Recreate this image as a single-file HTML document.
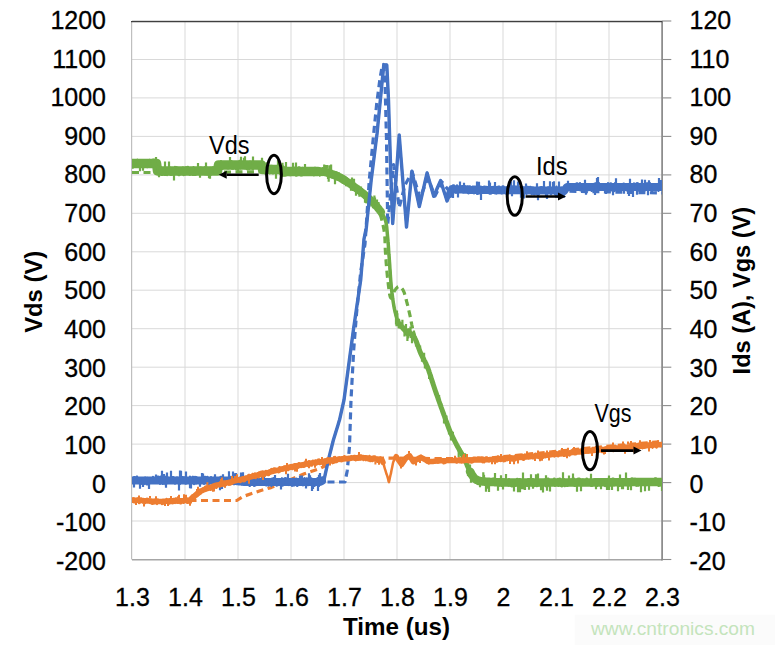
<!DOCTYPE html>
<html><head><meta charset="utf-8"><style>
html,body{margin:0;padding:0;background:#fff;}
body{width:775px;height:645px;overflow:hidden;position:relative;}
svg{position:absolute;left:0;top:0;}
text{font-family:"Liberation Sans",sans-serif;fill:#000;}
</style></head><body>
<svg width="775" height="645" viewBox="0 0 775 645">
<rect x="574.7" y="614.7" width="201" height="31" fill="#FBFBFB"/>
<g stroke="#D9D9D9" stroke-width="1" fill="none"><line x1="185.0" y1="21.0" x2="185.0" y2="559.5"/><line x1="238.0" y1="21.0" x2="238.0" y2="559.5"/><line x1="291.0" y1="21.0" x2="291.0" y2="559.5"/><line x1="344.0" y1="21.0" x2="344.0" y2="559.5"/><line x1="397.0" y1="21.0" x2="397.0" y2="559.5"/><line x1="450.0" y1="21.0" x2="450.0" y2="559.5"/><line x1="503.0" y1="21.0" x2="503.0" y2="559.5"/><line x1="556.0" y1="21.0" x2="556.0" y2="559.5"/><line x1="609.0" y1="21.0" x2="609.0" y2="559.5"/><line x1="132.0" y1="21.0" x2="662.0" y2="21.0"/><line x1="132.0" y1="59.5" x2="662.0" y2="59.5"/><line x1="132.0" y1="97.9" x2="662.0" y2="97.9"/><line x1="132.0" y1="136.4" x2="662.0" y2="136.4"/><line x1="132.0" y1="174.9" x2="662.0" y2="174.9"/><line x1="132.0" y1="213.3" x2="662.0" y2="213.3"/><line x1="132.0" y1="251.8" x2="662.0" y2="251.8"/><line x1="132.0" y1="290.2" x2="662.0" y2="290.2"/><line x1="132.0" y1="328.7" x2="662.0" y2="328.7"/><line x1="132.0" y1="367.2" x2="662.0" y2="367.2"/><line x1="132.0" y1="405.6" x2="662.0" y2="405.6"/><line x1="132.0" y1="444.1" x2="662.0" y2="444.1"/><line x1="132.0" y1="482.6" x2="662.0" y2="482.6"/><line x1="132.0" y1="521.0" x2="662.0" y2="521.0"/></g>
<line x1="132.0" y1="20.5" x2="662.0" y2="20.5" stroke="#D9D9D9" stroke-width="1"/>
<line x1="131.6" y1="21.0" x2="131.6" y2="559.5" stroke="#BFBFBF" stroke-width="1.2"/>
<line x1="132.0" y1="559.8" x2="662.0" y2="559.8" stroke="#A6A6A6" stroke-width="1.5"/>
<line x1="662.1" y1="21.0" x2="662.1" y2="560.5" stroke="#808080" stroke-width="1.6"/>
<line x1="131" y1="21.6" x2="662.5" y2="21.6" stroke="#404040" stroke-width="1.3"/>
<g stroke="#8C8C8C" stroke-width="1.1"><line x1="662.0" y1="21.0" x2="671.3" y2="21.0"/><line x1="662.0" y1="59.5" x2="671.3" y2="59.5"/><line x1="662.0" y1="97.9" x2="671.3" y2="97.9"/><line x1="662.0" y1="136.4" x2="671.3" y2="136.4"/><line x1="662.0" y1="174.9" x2="671.3" y2="174.9"/><line x1="662.0" y1="213.3" x2="671.3" y2="213.3"/><line x1="662.0" y1="251.8" x2="671.3" y2="251.8"/><line x1="662.0" y1="290.2" x2="671.3" y2="290.2"/><line x1="662.0" y1="328.7" x2="671.3" y2="328.7"/><line x1="662.0" y1="367.2" x2="671.3" y2="367.2"/><line x1="662.0" y1="405.6" x2="671.3" y2="405.6"/><line x1="662.0" y1="444.1" x2="671.3" y2="444.1"/><line x1="662.0" y1="482.6" x2="671.3" y2="482.6"/><line x1="662.0" y1="521.0" x2="671.3" y2="521.0"/><line x1="662.0" y1="559.5" x2="671.3" y2="559.5"/></g>
<defs><clipPath id="pa"><rect x="132" y="21" width="530" height="538.5"/></clipPath></defs>
<g fill="none" stroke-linejoin="round" stroke-linecap="butt" clip-path="url(#pa)">
<path d="M132.0,172.5 L135.3,172.5 L138.5,172.5 L141.5,172.5 L144.6,172.5 L147.8,172.5 L151.4,172.5 L155.4,172.5 L160.0,172.5 L174.9,172.4 L194.8,172.3 L217.9,172.1 L242.4,171.9 L266.7,171.8 L288.9,171.8 L307.2,172.0 L320.0,172.5 L322.7,172.7 L325.0,172.9 L326.9,173.1 L328.7,173.3 L330.3,173.5 L331.9,173.8 L333.4,174.1 L335.0,174.5 L336.4,174.8 L337.6,175.1 L338.8,175.5 L340.0,175.9 L341.2,176.3 L342.4,176.8 L343.7,177.3 L345.0,178.0 L347.0,179.1 L349.1,180.5 L351.2,182.0 L353.4,183.6 L355.6,185.4 L357.8,187.2 L360.0,189.1 L362.0,191.0 L364.2,193.1 L366.4,195.3 L368.6,197.6 L370.8,200.0 L372.8,202.4 L374.7,204.9 L376.5,207.4 L378.0,210.0 L379.2,212.4 L380.2,214.8 L381.1,217.2 L381.8,219.7 L382.4,222.3 L383.0,224.8 L383.5,227.4 L384.0,230.0 L384.4,232.8 L384.7,235.6 L384.9,238.4 L385.0,241.3 L385.1,244.2 L385.2,247.1 L385.3,250.0 L385.5,253.0 L385.7,256.3 L386.0,259.6 L386.2,263.1 L386.5,266.5 L386.8,269.9 L387.1,273.3 L387.4,276.5 L387.8,279.6 L388.1,282.3 L388.4,285.3 L388.8,288.3 L389.1,291.2 L389.5,293.8 L390.0,296.0 L390.4,297.4 L391.0,298.0 L391.4,297.8 L391.9,297.1 L392.3,296.1 L392.8,294.8 L393.3,293.5 L393.9,292.1 L394.4,290.9 L395.0,290.0 L395.5,289.4 L395.9,288.8 L396.4,288.2 L397.0,287.7 L397.5,287.2 L398.0,286.8 L398.5,286.6 L399.0,286.5 L399.5,286.6 L400.0,286.8 L400.6,287.1 L401.1,287.6 L401.6,288.1 L402.1,288.7 L402.6,289.3 L403.0,290.0 L403.6,291.2 L404.2,292.6 L404.7,294.2 L405.2,295.9 L405.7,297.7 L406.1,299.5 L406.6,301.3 L407.0,303.0 L407.5,304.7 L407.9,306.4 L408.3,308.1 L408.7,309.9 L409.1,311.6 L409.5,313.4 L409.9,315.1 L410.3,316.8 L410.6,318.4 L410.9,320.0 L411.2,321.6 L411.5,323.2 L411.8,324.8 L412.2,326.4 L412.5,328.2 L413.0,330.0 L413.8,332.7 L414.6,335.7 L415.6,338.9 L416.7,342.1 L417.8,345.3 L418.9,348.4 L419.9,351.3 L421.0,354.0 L421.8,355.7 L422.5,357.3 L423.3,358.8 L424.1,360.3 L424.9,361.7 L425.7,363.2 L426.4,364.8 L427.2,366.5 L428.2,369.0 L429.1,371.7 L430.1,374.5 L431.0,377.5 L432.0,380.5 L433.0,383.6 L434.0,386.7 L435.0,389.8 L436.3,393.5 L437.7,397.4 L439.1,401.5 L440.6,405.5 L442.0,409.5 L443.4,413.4 L444.7,416.9 L445.8,420.0 L446.4,421.7 L447.0,423.3 L447.5,424.7 L448.0,426.1 L448.5,427.5 L449.0,428.8 L449.6,430.2 L450.2,431.7 L451.0,433.6 L451.9,435.5 L452.9,437.5 L453.9,439.5 L454.9,441.5 L455.9,443.5 L456.9,445.4 L457.9,447.2 L458.7,448.6 L459.5,450.0 L460.3,451.3 L461.1,452.6 L461.8,453.9 L462.6,455.2 L463.4,456.6 L464.1,458.0 L464.9,459.7 L465.7,461.5 L466.4,463.3 L467.1,465.2 L467.9,467.0 L468.7,468.8 L469.5,470.5 L470.3,472.0 L471.0,473.2 L471.6,474.3 L472.3,475.4 L473.0,476.4 L473.7,477.4 L474.5,478.3 L475.5,479.1 L476.5,479.8 L477.9,480.5 L479.4,481.0 L480.9,481.3 L482.7,481.5 L484.6,481.6 L486.7,481.7 L489.2,481.8 L492.0,482.0 L504.5,482.5 L521.7,482.8 L542.4,482.8 L565.6,482.7 L590.2,482.5 L615.2,482.3 L639.5,482.1 L662.0,482.0" stroke="#70AD47" stroke-width="3.2" stroke-dasharray="7 4.5"/>
<path d="M132.0,482.0 L345.0,482.0 L347.2,471.0 L349.5,446.5 L351.0,400.0 L353.7,350.0 L356.5,313.8 L360.7,272.0 L365.0,244.0 L369.3,180.0 L373.6,134.7 L376.7,103.7 L379.8,80.0 L382.0,67.0 L383.5,64.5 L385.0,81.0 L386.5,140.0 L387.7,224.3 L393.6,164.7 L399.2,207.5 L405.0,185.0 L412.2,172.0 L420.0,198.0 L428.0,178.0 L435.0,196.0 L442.0,182.0 L450.0,192.0 L460.0,190.0 L560.0,191.0 L662.0,193.0" stroke="#4472C4" stroke-width="3.2" stroke-dasharray="7 4.5"/>
<path d="M132.0,500.5 L236.8,500.5 L243.2,496.5 L251.0,493.8 L260.2,490.7 L271.0,487.6 L305.0,473.6 L320.6,468.2 L328.0,464.3 L340.0,460.0 L384.0,458.0 L480.0,459.0 L600.0,447.0 L662.0,441.5" stroke="#ED7D31" stroke-width="3.2" stroke-dasharray="7 4.5"/>
<path d="M132.0,163.5 L133.0,163.5 L134.0,163.5 L135.0,163.5 L136.0,163.5 L137.0,163.5 L138.0,163.5 L139.0,163.5 L140.0,163.5 L141.0,163.5 L142.0,163.5 L143.0,163.5 L144.0,163.5 L145.0,163.5 L146.0,163.5 L147.0,163.5 L148.0,163.5 L149.0,163.5 L150.0,163.5 L151.0,163.5 L152.0,163.5 L153.0,163.5 L154.0,163.5 L155.0,163.5 L156.0,163.5 L156.5,163.5 L157.0,167.2 L157.5,171.0 L158.0,171.0 L159.0,171.0 L160.0,171.0 L161.0,171.0 L162.0,171.0 L163.0,171.0 L164.0,171.0 L165.0,171.0 L166.0,171.0 L167.0,171.0 L168.0,171.0 L169.0,171.0 L170.0,171.0 L171.0,171.0 L172.0,171.0 L173.0,171.0 L174.0,171.0 L175.0,171.0 L176.0,171.0 L177.0,171.0 L178.0,171.0 L179.0,171.0 L180.0,171.0 L181.0,171.0 L182.0,171.0 L183.0,171.0 L184.0,171.0 L185.0,171.0 L186.0,171.0 L187.0,171.0 L188.0,171.0 L189.0,171.0 L190.0,171.0 L191.0,171.0 L192.0,171.0 L193.0,171.0 L194.0,171.0 L195.0,171.0 L196.0,171.0 L197.0,171.0 L198.0,171.0 L199.0,171.0 L200.0,171.0 L201.0,171.0 L202.0,171.0 L203.0,171.0 L204.0,171.0 L205.0,171.0 L206.0,171.0 L207.0,171.0 L208.0,171.0 L209.0,171.0 L210.0,171.0 L211.0,171.0 L212.0,171.0 L213.0,171.0 L214.0,171.0 L215.0,171.0 L216.0,171.0 L217.0,171.0 L217.5,171.0 L218.0,168.0 L218.5,165.0 L219.0,165.0 L220.0,165.0 L221.0,165.0 L222.0,165.0 L223.0,165.0 L224.0,165.0 L225.0,165.0 L226.0,165.0 L227.0,165.0 L228.0,165.0 L229.0,165.0 L230.0,165.0 L231.0,165.0 L232.0,165.0 L233.0,165.0 L234.0,165.0 L235.0,165.0 L236.0,165.0 L237.0,165.0 L238.0,165.0 L239.0,165.0 L240.0,165.0 L241.0,165.0 L242.0,165.0 L243.0,165.0 L244.0,165.0 L245.0,165.0 L246.0,165.0 L247.0,165.0 L248.0,165.0 L249.0,165.0 L250.0,165.0 L251.0,165.0 L252.0,165.0 L253.0,165.0 L254.0,165.0 L255.0,165.0 L256.0,165.0 L257.0,165.0 L258.0,165.0 L259.0,165.0 L260.0,165.0 L261.0,165.0 L261.5,165.0 L262.0,167.2 L262.5,169.5 L263.0,169.5 L264.0,169.5 L265.0,169.5 L266.0,169.5 L267.0,169.5 L268.0,169.5 L269.0,169.5 L270.0,169.5 L271.0,169.5 L272.0,169.5 L273.0,169.5 L274.0,169.5 L275.0,169.5 L276.0,169.5 L277.0,169.5 L278.0,169.5 L279.0,169.5 L280.0,169.5 L281.0,169.5 L281.5,169.5 L282.0,170.5 L282.5,171.5 L283.0,171.5 L284.0,171.5 L285.0,171.5 L286.0,171.5 L287.0,171.5 L288.0,171.5 L289.0,171.5 L290.0,171.5 L291.0,171.5 L292.0,171.5 L293.0,171.5 L294.0,171.5 L295.0,171.5 L296.0,171.5 L297.0,171.5 L298.0,171.5 L299.0,171.5 L300.0,171.5 L301.0,171.5 L302.0,171.5 L303.0,171.5 L304.0,171.5 L305.0,171.5 L306.0,171.5 L307.0,171.5 L308.0,171.5 L309.0,171.5 L310.0,171.5 L311.0,171.5 L312.0,171.5 L313.0,171.5 L314.0,171.5 L315.0,171.5 L316.0,171.5 L317.0,171.5 L318.0,171.5" stroke="#70AD47" stroke-width="9.5" stroke-linecap="round"/><path d="M318.0,171.5 L318.9,171.6 L319.0,171.6 L319.8,171.6 L320.0,171.6 L320.7,171.6 L321.0,171.6 L321.6,171.7 L322.0,171.7 L322.5,171.7 L323.0,171.8 L323.3,171.8 L324.0,171.9 L324.2,171.9 L325.0,172.0 L325.7,172.1 L326.0,172.2 L326.3,172.3 L326.9,172.4 L327.0,172.5 L327.5,172.6 L328.0,172.8 L328.0,172.8 L328.7,173.0 L329.0,173.1 L329.3,173.3 L330.0,173.5 L331.0,173.8 L331.1,173.9 L332.0,174.2 L332.3,174.3 L333.0,174.6 L333.5,174.7 L334.0,174.9 L334.8,175.2 L335.0,175.3 L336.0,175.7 L336.1,175.7 L337.0,176.1 L337.4,176.3 L338.0,176.6 L338.7,176.9 L339.0,177.0 L340.0,177.5 L341.0,178.0 L341.4,178.2 L342.0,178.6 L342.8,179.1 L343.0,179.2 L344.0,179.8 L344.2,180.0 L345.0,180.5" stroke="#70AD47" stroke-width="8.5" stroke-linecap="round"/><path d="M345.0,180.5 L345.6,180.9 L346.0,181.1 L347.0,181.8 L347.0,181.8 L348.0,182.5 L348.4,182.7 L349.0,183.1 L349.7,183.6 L350.0,183.8 L351.0,184.5 L352.0,185.2 L352.0,185.2 L353.0,185.9 L353.0,185.9 L354.0,186.6 L354.0,186.6 L354.9,187.3 L355.0,187.3 L355.9,188.0 L356.0,188.1 L356.8,188.6 L357.0,188.8 L357.7,189.3 L358.0,189.5 L358.6,190.0 L359.0,190.3 L359.4,190.6 L360.0,191.0 L360.2,191.2 L361.0,191.8 L361.0,191.8 L361.7,192.3 L362.0,192.5 L362.5,192.9 L363.0,193.3 L363.3,193.6 L364.0,194.1 L364.1,194.2 L365.0,195.0 L366.0,195.9 L366.4,196.2 L367.0,196.8 L367.9,197.6 L368.0,197.7 L369.0,198.6 L369.5,199.1 L370.0,199.6 L371.0,200.5 L371.2,200.7 L372.0,201.5 L372.8,202.3 L373.0,202.5 L374.0,203.5 L374.4,203.9 L375.0,204.6 L375.9,205.6 L376.0,205.7 L377.0,206.8 L377.3,207.2 L378.0,208.1 L378.5,208.6 L379.0,209.3 L379.6,210.0 L380.0,210.6 L380.7,211.4 L381.0,211.9" stroke="#70AD47" stroke-width="8" stroke-linecap="round"/><path d="M381.0,211.9 L381.7,212.8 L382.0,213.3 L382.6,214.3 L383.0,214.9 L383.5,215.8 L384.0,216.8 L384.3,217.4 L385.0,219.0 L385.6,220.9 L386.0,222.5 L386.1,222.9 L386.4,224.9 L386.7,227.0 L386.9,229.2 L387.0,230.4 L387.1,231.4 L387.3,233.7 L387.5,236.0 L387.8,238.9 L388.0,241.2 L388.1,241.9 L388.3,244.9 L388.5,248.1 L388.7,251.3 L388.9,254.5 L389.0,255.4 L389.2,257.7 L389.4,261.0 L389.7,264.6 L389.9,268.3 L390.0,269.5 L390.2,272.1 L390.4,276.0 L390.7,279.8 L391.0,283.4 L391.0,283.5 L391.3,287.1 L391.7,290.5 L392.0,293.0 L392.0,293.2 L392.4,296.0 L392.7,298.6 L393.0,300.6 L393.1,301.2 L393.5,303.7 L393.9,306.1 L394.0,306.7 L394.3,308.4 L394.8,310.6 L395.0,311.5 L395.1,312.1 L395.5,313.5 L395.8,314.8 L396.0,315.6 L396.1,316.1 L396.5,317.3 L396.9,318.6 L397.0,318.7 L397.4,319.8 L398.0,321.0 L398.7,322.3 L399.0,322.8 L399.5,323.7 L400.0,324.4" stroke="#70AD47" stroke-width="3.5" stroke-linecap="round"/><path d="M400.0,324.4 L400.4,325.0 L401.0,325.8 L401.4,326.4 L402.0,327.1 L402.4,327.6 L403.0,328.4 L403.4,328.8 L404.0,329.5 L404.5,330.0 L405.0,330.5 L405.5,331.0 L406.0,331.4 L406.4,331.7 L407.0,332.1 L407.4,332.3 L408.0,332.6 L408.4,332.9 L409.0,333.1 L409.4,333.3 L410.0,333.6 L410.5,333.8 L411.0,334.1 L411.5,334.4 L412.0,334.8 L412.4,335.1 L413.0,335.7 L413.3,336.0 L414.0,337.0 L414.5,337.7 L415.0,338.7 L415.5,339.7 L416.0,340.8 L416.5,342.0 L417.0,343.2 L417.4,344.4 L418.0,346.0 L418.3,346.9 L419.0,348.9 L419.2,349.4 L420.0,351.6 L420.1,351.8 L421.0,354.0 L421.8,355.7 L422.0,356.1 L422.6,357.2 L423.0,358.0 L423.4,358.7 L424.0,359.9 L424.1,360.1 L424.9,361.6 L425.0,361.8 L425.7,363.1 L426.0,363.8 L426.4,364.7 L427.0,366.0 L427.2,366.5 L428.0,368.5 L428.2,369.0 L429.0,371.3 L429.1,371.7 L430.0,374.3 L430.1,374.5 L431.0,377.4 L431.0,377.5 L432.0,380.5 L432.0,380.6 L433.0,383.6 L433.0,383.7 L434.0,386.7 L434.0,386.8 L435.0,389.8 L435.0,389.8 L436.0,392.7 L436.3,393.5 L437.0,395.5 L437.7,397.4 L438.0,398.4 L439.0,401.2 L439.1,401.5 L440.0,404.0 L440.6,405.5 L441.0,406.8 L442.0,409.5 L442.0,409.5 L443.0,412.3 L443.4,413.4 L444.0,415.1 L444.7,416.9 L445.0,417.8 L445.8,420.0 L446.0,420.6 L446.4,421.7 L447.0,423.3 L447.0,423.3 L447.5,424.7 L448.0,426.1 L448.0,426.1 L448.5,427.5 L449.0,428.8 L449.0,428.8 L449.6,430.2 L450.0,431.2 L450.2,431.7 L451.0,433.5 L451.0,433.6 L451.9,435.5 L452.0,435.6 L452.9,437.5 L453.0,437.7 L453.9,439.5 L454.0,439.7 L454.9,441.5 L455.0,441.7 L455.9,443.5 L456.0,443.6 L456.9,445.4 L457.0,445.5 L457.9,447.2 L458.0,447.4 L458.7,448.6 L459.0,449.2 L459.5,450.0 L460.0,450.9 L460.3,451.3 L461.0,452.5 L461.1,452.6 L461.8,453.9 L462.0,454.2 L462.6,455.2 L463.0,455.9 L463.4,456.6 L464.0,457.8 L464.1,458.0 L464.9,459.7 L465.0,459.9 L465.7,461.5 L466.0,462.3 L466.4,463.3 L467.0,464.8 L467.1,465.2 L467.9,467.0 L468.0,467.3 L468.7,468.8 L469.0,469.5 L469.5,470.5 L470.0,471.5" stroke="#70AD47" stroke-width="5" stroke-linecap="round"/><path d="M470.0,471.5 L470.3,472.0 L471.0,473.2 L471.0,473.2 L471.6,474.3 L472.0,474.9 L472.3,475.4 L473.0,476.4 L473.0,476.4 L473.7,477.4 L474.0,477.7 L474.5,478.3 L475.0,478.7 L475.5,479.1 L476.0,479.5 L476.5,479.8 L477.0,480.0 L478.0,480.5 L478.0,480.5 L479.0,480.8 L479.6,481.0 L480.0,481.1 L481.0,481.2 L481.4,481.3 L482.0,481.4 L483.0,481.5 L483.3,481.5 L484.0,481.6 L485.0,481.6 L485.3,481.7 L486.0,481.7 L487.0,481.7 L487.4,481.8 L488.0,481.8 L489.0,481.8 L489.7,481.9 L490.0,481.9 L491.0,481.9 L492.0,482.0 L493.0,482.1 L494.0,482.1 L495.0,482.2 L495.8,482.2 L496.0,482.2 L497.0,482.3 L498.0,482.3 L499.0,482.4 L499.8,482.4 L500.0,482.4 L501.0,482.4 L502.0,482.4 L503.0,482.5 L504.0,482.5 L504.0,482.5 L505.0,482.5 L506.0,482.5 L507.0,482.5 L508.0,482.5 L508.5,482.5 L509.0,482.5 L510.0,482.5 L511.0,482.5 L512.0,482.5 L513.0,482.5 L513.3,482.5 L514.0,482.5 L515.0,482.5 L516.0,482.5 L517.0,482.5 L518.0,482.5 L518.5,482.5 L519.0,482.5 L520.0,482.5 L521.0,482.5 L522.0,482.5 L523.0,482.5 L524.0,482.5 L524.0,482.5 L525.0,482.5 L526.0,482.5 L527.0,482.5 L528.0,482.5 L529.0,482.5 L530.0,482.5 L531.0,482.5 L532.0,482.5 L533.0,482.5 L534.0,482.5 L535.0,482.5 L536.0,482.5 L537.0,482.5 L538.0,482.5 L539.0,482.5 L540.0,482.5 L541.0,482.5 L542.0,482.5 L542.7,482.5 L543.0,482.5 L544.0,482.5 L545.0,482.5 L546.0,482.5 L547.0,482.5 L548.0,482.5 L549.0,482.5 L550.0,482.5 L551.0,482.5 L552.0,482.5 L553.0,482.5 L554.0,482.5 L555.0,482.5 L556.0,482.5 L557.0,482.5 L557.4,482.5 L558.0,482.5 L559.0,482.5 L560.0,482.5 L561.0,482.5 L562.0,482.5 L563.0,482.5 L564.0,482.5 L565.0,482.5 L566.0,482.5 L567.0,482.5 L568.0,482.5 L569.0,482.5 L570.0,482.5 L571.0,482.5 L572.0,482.5 L573.0,482.5 L573.7,482.4 L574.0,482.4 L575.0,482.4 L576.0,482.4 L577.0,482.4 L578.0,482.4 L579.0,482.4 L580.0,482.4 L581.0,482.4 L582.0,482.4 L583.0,482.4 L584.0,482.4 L585.0,482.4 L586.0,482.4 L587.0,482.4 L588.0,482.4 L589.0,482.4 L590.0,482.4 L591.0,482.4 L591.0,482.4 L592.0,482.4 L593.0,482.4 L594.0,482.4 L595.0,482.3 L596.0,482.3 L597.0,482.3 L598.0,482.3 L599.0,482.3 L600.0,482.3 L601.0,482.3 L602.0,482.3 L603.0,482.3 L604.0,482.3 L605.0,482.3 L606.0,482.3 L607.0,482.3 L608.0,482.3 L609.0,482.3 L609.0,482.3 L610.0,482.3 L611.0,482.3 L612.0,482.3 L613.0,482.2 L614.0,482.2 L615.0,482.2 L616.0,482.2 L617.0,482.2 L618.0,482.2 L619.0,482.2 L620.0,482.2 L621.0,482.2 L622.0,482.2 L623.0,482.2 L624.0,482.2 L625.0,482.2 L626.0,482.2 L627.0,482.2 L627.1,482.2 L628.0,482.2 L629.0,482.2 L630.0,482.2 L631.0,482.1 L632.0,482.1 L633.0,482.1 L634.0,482.1 L635.0,482.1 L636.0,482.1 L637.0,482.1 L638.0,482.1 L639.0,482.1 L640.0,482.1 L641.0,482.1 L642.0,482.1 L643.0,482.1 L644.0,482.1 L645.0,482.1 L645.0,482.1 L646.0,482.1 L647.0,482.1 L648.0,482.1 L649.0,482.1 L650.0,482.1 L651.0,482.0 L652.0,482.0 L653.0,482.0 L654.0,482.0 L655.0,482.0 L656.0,482.0 L657.0,482.0 L658.0,482.0 L659.0,482.0 L660.0,482.0 L661.0,482.0 L662.0,482.0" stroke="#70AD47" stroke-width="8.5" stroke-linecap="round"/><path d="M132.0,167.6 L132.5,167.6 L133.0,167.6 L133.5,162.4 L134.0,166.7 L134.5,162.3 L135.0,162.3 L135.5,162.3 L136.0,161.4 L136.5,161.4 L137.0,161.4 L137.5,159.7 L138.0,160.2 L138.5,164.4 L139.0,160.4 L139.5,166.2 L140.0,166.6 L140.5,160.3 L141.0,164.8 L141.5,160.2 L142.0,160.2 L142.5,160.2 L143.0,167.2 L143.5,167.2 L144.0,167.2 L144.5,166.0 L145.0,160.0 L145.5,160.3 L146.0,160.3 L146.5,160.3 L147.0,167.1 L147.5,167.1 L148.0,162.1 L148.5,162.1 L149.0,162.1 L149.5,159.8 L150.0,166.2 L150.5,165.9 L151.0,165.9 L151.5,166.7 L152.0,166.7 L152.5,166.7 L153.0,159.7 L153.5,159.7 L154.0,167.0 L154.5,159.9 L155.0,159.9 L155.5,165.7 L156.0,165.7 L156.5,165.7 L157.0,167.9 L157.5,171.6 L158.0,171.6 L158.5,172.7 L159.0,172.0 L159.5,172.0 L160.0,167.4 L160.5,167.4 L161.0,167.4 L161.5,175.0 L162.0,175.0 L162.5,175.0 L163.0,169.3 L163.5,169.3 L164.0,169.3 L164.5,174.9 L165.0,174.9 L165.5,174.9 L166.0,174.5 L166.5,174.5 L167.0,175.1 L167.5,169.2 L168.0,170.5 L168.5,173.2 L169.0,174.1 L169.5,174.1 L170.0,167.5 L170.5,175.0 L171.0,175.0 L171.5,175.0 L172.0,173.7 L172.5,174.3 L173.0,169.9 L173.5,172.7 L174.0,172.7 L174.5,169.7 L175.0,166.9 L175.5,167.1 L176.0,167.1 L176.5,167.1 L177.0,167.7 L177.5,167.7 L178.0,173.9 L178.5,175.2 L179.0,175.2 L179.5,175.2 L180.0,173.9 L180.5,169.7 L181.0,169.7 L181.5,173.9 L182.0,169.1 L182.5,169.1 L183.0,167.5 L183.5,175.2 L184.0,174.0 L184.5,174.7 L185.0,174.7 L185.5,167.7 L186.0,167.2 L186.5,168.0 L187.0,168.0 L187.5,166.8 L188.0,166.8 L188.5,173.1 L189.0,173.1 L189.5,174.8 L190.0,174.8 L190.5,172.2 L191.0,168.1 L191.5,168.1 L192.0,168.1 L192.5,175.0 L193.0,175.0 L193.5,167.2 L194.0,174.7 L194.5,175.0 L195.0,175.0 L195.5,175.0 L196.0,172.2 L196.5,172.2 L197.0,172.2 L197.5,173.7 L198.0,169.3 L198.5,169.4 L199.0,169.4 L199.5,169.4 L200.0,167.7 L200.5,167.7 L201.0,167.7 L201.5,172.7 L202.0,170.5 L202.5,168.2 L203.0,170.3 L203.5,174.0 L204.0,174.0 L204.5,174.1 L205.0,167.0 L205.5,167.0 L206.0,174.4 L206.5,174.4 L207.0,174.4 L207.5,167.9 L208.0,174.7 L208.5,169.3 L209.0,169.3 L209.5,169.3 L210.0,167.9 L210.5,167.9 L211.0,174.7 L211.5,168.9 L212.0,168.9 L212.5,167.3 L213.0,167.3 L213.5,167.3 L214.0,167.3 L214.5,173.4 L215.0,173.8 L215.5,173.8 L216.0,173.8 L216.5,167.5 L217.0,167.5 L217.5,167.2 L218.0,169.5 L218.5,166.5 L219.0,166.5 L219.5,166.1 L220.0,166.1 L220.5,166.1 L221.0,161.0 L221.5,166.6 L222.0,167.0 L222.5,169.0 L223.0,163.3 L223.5,163.3 L224.0,163.3 L224.5,167.4 L225.0,167.4 L225.5,167.4 L226.0,162.6 L226.5,162.6 L227.0,162.6 L227.5,168.5 L228.0,168.5 L228.5,168.5 L229.0,168.0 L229.5,168.0 L230.0,163.6 L230.5,163.8 L231.0,163.8 L231.5,161.0 L232.0,168.7 L232.5,168.7 L233.0,168.7 L233.5,167.7 L234.0,167.7 L234.5,167.7 L235.0,166.3 L235.5,162.3 L236.0,169.1 L236.5,166.2 L237.0,162.8 L237.5,165.5 L238.0,165.5 L238.5,165.5 L239.0,168.3 L239.5,160.9 L240.0,165.9 L240.5,168.3 L241.0,167.8 L241.5,167.5 L242.0,165.8 L242.5,162.0 L243.0,166.4 L243.5,166.4 L244.0,166.4 L244.5,168.1 L245.0,168.1 L245.5,168.1 L246.0,168.5 L246.5,166.9 L247.0,169.2 L247.5,164.5 L248.0,164.5 L248.5,166.7 L249.0,168.9 L249.5,168.9 L250.0,161.5 L250.5,166.8 L251.0,166.8 L251.5,165.3 L252.0,165.3 L252.5,169.1 L253.0,169.1 L253.5,164.2 L254.0,164.2 L254.5,162.5 L255.0,167.6 L255.5,167.6 L256.0,167.6 L256.5,168.0 L257.0,162.0 L257.5,162.8 L258.0,162.3 L258.5,165.6 L259.0,165.6 L259.5,163.8 L260.0,168.7 L260.5,168.7 L261.0,168.7 L261.5,162.8 L262.0,163.4 L262.5,165.7 L263.0,165.7 L263.5,165.5 L264.0,168.3 L264.5,166.1 L265.0,173.3 L265.5,166.2 L266.0,171.7 L266.5,171.7 L267.0,171.7 L267.5,165.9 L268.0,165.9 L268.5,165.9 L269.0,165.9 L269.5,173.3 L270.0,173.3 L270.5,165.9 L271.0,165.9 L271.5,165.9 L272.0,165.9 L272.5,173.4 L273.0,173.5 L273.5,173.5 L274.0,166.2 L274.5,166.2 L275.0,166.2 L275.5,172.9 L276.0,172.9 L276.5,169.0 L277.0,171.7 L277.5,166.0 L278.0,166.0 L278.5,172.4 L279.0,172.4 L279.5,172.4 L280.0,165.3 L280.5,173.7 L281.0,173.7 L281.5,173.7 L282.0,168.2 L282.5,175.7 L283.0,175.7 L283.5,175.7 L284.0,167.5 L284.5,168.3 L285.0,175.6 L285.5,175.5 L286.0,175.5 L286.5,168.5 L287.0,168.5 L287.5,168.5 L288.0,172.2 L288.5,175.0 L289.0,175.0 L289.5,175.0 L290.0,175.1 L290.5,175.1 L291.0,175.1 L291.5,174.1 L292.0,171.7 L292.5,171.7 L293.0,173.0 L293.5,167.5 L294.0,167.5 L294.5,174.1 L295.0,174.1 L295.5,174.1 L296.0,175.7 L296.5,175.5 L297.0,175.5 L297.5,169.3 L298.0,174.8 L298.5,167.4 L299.0,167.4 L299.5,167.4 L300.0,173.3 L300.5,173.3 L301.0,175.4 L301.5,175.4 L302.0,175.4 L302.5,167.9 L303.0,174.3 L303.5,174.4 L304.0,168.6 L304.5,168.6 L305.0,173.8 L305.5,173.8 L306.0,174.9 L306.5,174.9 L307.0,174.6 L307.5,174.6 L308.0,174.6 L308.5,169.8 L309.0,169.6 L309.5,169.6 L310.0,169.6 L310.5,168.7 L311.0,168.7 L311.5,174.2 L312.0,170.2 L312.5,170.2 L313.0,169.1 L313.5,169.1 L314.0,175.3 L314.5,167.9 L315.0,167.9 L315.5,167.9 L316.0,174.2 L316.5,173.7 L317.0,173.7 L317.5,173.7 L318.0,168.0 L318.5,169.3 L318.9,174.2 L319.0,174.2 L319.5,174.2 L319.8,175.7 L320.0,171.0 L320.5,171.0 L320.7,171.0 L321.0,171.7 L321.5,171.7 L321.6,171.7 L322.0,175.2 L322.5,170.0 L322.5,168.2 L323.0,168.3 L323.3,168.3 L323.5,169.1 L324.0,168.7 L324.2,169.0 L324.5,169.0 L325.0,169.2 L325.5,169.3 L325.7,169.3 L326.0,171.1 L326.3,171.1 L326.5,170.1 L326.9,172.1 L327.0,172.1 L327.5,174.5 L327.5,174.5 L328.0,170.3 L328.0,172.2 L328.5,172.4 L328.7,172.4 L329.0,174.0 L329.3,176.6 L329.5,176.7 L330.0,176.9 L330.5,171.8 L331.0,172.0 L331.1,172.1 L331.5,175.7 L332.0,177.3 L332.3,177.3 L332.5,176.0 L333.0,176.2 L333.5,173.1 L333.5,177.9 L334.0,172.5 L334.5,172.7 L334.8,176.4 L335.0,176.5 L335.5,176.7 L336.0,172.3 L336.1,172.3 L336.5,172.5 L337.0,179.5 L337.4,172.8 L337.5,175.8 L338.0,177.4 L338.5,174.5 L338.7,174.6 L339.0,173.4 L339.5,178.8 L340.0,179.1 L340.5,179.3 L341.0,176.0 L341.4,176.2 L341.5,176.3 L342.0,182.2 L342.5,182.5 L342.8,182.6 L343.0,178.0 L343.5,180.5 L344.0,180.8 L344.2,181.0 L344.5,177.4 L345.0,182.5 L345.5,182.9 L345.6,181.9 L346.0,182.1 L346.5,182.5 L347.0,179.6 L347.0,179.7 L347.5,180.0 L348.0,180.5 L348.4,180.7 L348.5,180.8 L349.0,180.4 L349.5,184.2 L349.7,184.5 L350.0,185.4 L350.5,186.3 L351.0,186.6 L351.5,183.1 L352.0,183.4 L352.0,187.1 L352.5,182.4 L353.0,188.8 L353.0,188.9 L353.5,189.2 L354.0,189.7 L354.0,189.7 L354.5,190.1 L354.9,188.6 L355.0,188.6 L355.5,189.0 L355.9,187.6 L356.0,187.7 L356.5,185.7 L356.8,185.9 L357.0,191.2 L357.5,187.0 L357.7,187.1 L358.0,192.2 L358.5,192.5 L358.6,186.5 L359.0,188.5 L359.4,189.5 L359.5,189.6 L360.0,190.0 L360.2,192.7 L360.5,193.8 L361.0,188.7 L361.0,188.7 L361.5,194.0 L361.7,194.2 L362.0,194.3 L362.5,194.7 L362.5,190.6 L363.0,191.6 L363.3,191.9 L363.5,191.7 L364.0,192.1 L364.1,192.2 L364.5,198.1 L365.0,192.2 L365.5,195.2 L366.0,199.2 L366.4,197.9 L366.5,193.6 L367.0,194.7 L367.5,200.0 L367.9,194.8 L368.0,194.9 L368.5,197.5 L369.0,197.9 L369.5,198.3 L369.5,198.4 L370.0,196.8 L370.5,196.9 L371.0,197.3 L371.2,197.5 L371.5,202.5 L372.0,203.0 L372.5,200.4 L372.8,200.7 L373.0,200.9 L373.5,203.9 L374.0,206.4 L374.4,201.1 L374.5,201.2 L375.0,201.8 L375.5,207.4 L375.9,207.8 L376.0,207.9 L376.5,209.3 L377.0,209.9 L377.3,209.5 L377.5,209.7 L378.0,205.9 L378.5,206.4 L378.5,206.5 L379.0,205.9 L379.5,206.5 L379.6,206.6 L380.0,208.3 L380.5,213.9 L380.7,214.1 L381.0,212.6 L381.5,212.4 L381.7,213.1 L382.0,213.6 L382.5,213.8 L382.6,214.0 L383.0,214.3 L383.5,215.3 L383.5,216.1 L384.0,217.2 L384.3,217.8 L384.5,218.3 L385.0,218.2 L385.5,219.9 L385.6,221.2 L386.0,222.0 L386.1,223.4 L386.4,224.1 L386.5,224.7 L386.7,227.3 L386.9,229.5 L387.0,230.7 L387.1,232.1 L387.3,234.3 L387.5,235.5 L387.8,238.4 L388.0,241.8 L388.1,241.8 L388.3,244.9 L388.5,247.8 L388.5,248.5 L388.7,251.6 L388.9,254.9 L389.0,254.7 L389.2,257.0 L389.4,260.3 L389.5,262.2 L389.7,264.4 L389.9,268.8 L390.0,270.0 L390.2,272.6 L390.4,275.8 L390.5,276.1 L390.7,279.0 L391.0,283.2 L391.0,283.3 L391.3,286.9 L391.5,288.5 L391.7,290.1 L392.0,292.7 L392.0,292.9 L392.4,296.7 L392.5,296.8 L392.7,298.4 L393.0,300.9 L393.1,301.5 L393.5,304.0 L393.5,304.1 L393.9,306.4 L394.0,306.1 L394.3,308.9 L394.5,308.7 L394.8,310.1 L395.0,312.2 L395.1,312.4 L395.5,314.3 L395.5,314.4 L395.8,315.6 L396.0,313.7 L396.1,314.2 L396.5,315.4 L396.5,319.3 L396.9,320.5 L397.0,316.5 L397.4,321.6 L397.5,323.4 L398.0,324.4 L398.5,325.0 L398.7,325.4 L399.0,319.5 L399.5,321.6 L399.5,321.6 L400.0,322.3 L400.4,327.8 L400.5,322.5 L401.0,324.9 L401.4,325.5 L401.5,327.7 L402.0,328.4 L402.4,325.2 L402.5,325.3 L403.0,326.6 L403.4,327.1 L403.5,327.2 L404.0,328.1 L404.5,327.4 L404.5,326.5 L405.0,327.0 L405.5,334.4 L406.0,328.3 L406.4,328.7 L406.5,334.7 L407.0,335.0 L407.4,335.3 L407.5,330.8 L408.0,331.7 L408.4,334.5 L408.5,329.3 L409.0,330.1 L409.4,330.9 L409.5,330.9 L410.0,331.2 L410.5,331.1 L410.5,336.9 L411.0,337.1 L411.5,337.4 L411.5,332.1 L412.0,332.5 L412.4,332.8 L412.5,336.3 L413.0,336.8 L413.3,337.1 L413.5,334.5 L414.0,338.8 L414.5,335.5 L414.5,335.5 L415.0,336.7 L415.5,337.7 L415.5,337.7 L416.0,342.2 L416.5,339.5 L416.5,340.6 L417.0,340.7 L417.4,341.9 L417.5,342.1 L418.0,343.6 L418.3,345.3 L418.5,345.8 L419.0,347.3 L419.2,351.8 L419.5,348.5 L420.0,353.9 L420.1,354.1 L420.5,355.1 L421.0,352.0 L421.5,354.6 L421.8,353.6 L422.0,358.6 L422.5,356.5 L422.6,355.0 L423.0,359.2 L423.4,359.5 L423.5,358.1 L424.0,357.5 L424.1,357.8 L424.5,361.6 L424.9,360.2 L425.0,360.4 L425.5,364.1 L425.7,364.5 L426.0,366.3 L426.4,367.2 L426.5,367.4 L427.0,368.5 L427.2,368.5 L427.5,367.7 L428.0,370.3 L428.2,366.8 L428.5,371.0 L429.0,369.9 L429.1,370.2 L429.5,374.9 L430.0,376.3 L430.1,376.5 L430.5,374.4 L431.0,375.5 L431.0,375.7 L431.5,380.5 L432.0,382.1 L432.0,382.1 L432.5,384.6 L433.0,386.0 L433.0,384.9 L433.5,386.5 L434.0,389.2 L434.0,389.4 L434.5,389.2 L435.0,391.8 L435.0,391.9 L435.5,393.4 L436.0,390.9 L436.3,391.7 L436.5,393.2 L437.0,394.6 L437.5,396.0 L437.7,395.6 L438.0,396.5 L438.5,402.0 L439.0,398.6 L439.1,398.9 L439.5,403.6 L440.0,405.0 L440.5,404.0 L440.6,403.0 L441.0,405.1 L441.5,410.4 L442.0,411.8 L442.0,411.8 L442.5,412.1 L443.0,413.5 L443.4,414.5 L443.5,414.9 L444.0,415.5 L444.5,416.9 L444.7,417.4 L445.0,420.0 L445.5,421.3 L445.8,420.4 L446.0,420.9 L446.4,421.9 L446.5,424.1 L447.0,425.5 L447.0,425.5 L447.5,422.6 L447.5,422.7 L448.0,424.0 L448.0,424.1 L448.5,428.9 L448.5,428.8 L449.0,430.1 L449.0,430.1 L449.5,428.7 L449.6,428.9 L450.0,429.9 L450.2,433.5 L450.5,434.1 L451.0,435.2 L451.0,431.1 L451.5,432.1 L451.9,433.9 L452.0,434.0 L452.5,435.0 L452.9,437.0 L453.0,435.5 L453.5,439.5 L453.9,440.3 L454.0,440.5 L454.5,438.5 L454.9,443.4 L455.0,443.6 L455.5,444.5 L455.9,444.7 L456.0,445.5 L456.5,446.6 L456.9,447.5 L457.0,447.1 L457.5,445.7 L457.9,446.5 L458.0,446.7 L458.5,450.3 L458.7,447.2 L459.0,447.7 L459.5,448.6 L459.5,447.4 L460.0,448.3 L460.3,448.7 L460.5,452.9 L461.0,450.2 L461.1,454.7 L461.5,451.8 L461.8,452.4 L462.0,452.7 L462.5,457.7 L462.6,456.8 L463.0,458.1 L463.4,458.8 L463.5,459.0 L464.0,460.0 L464.1,460.1 L464.5,456.5 L464.9,457.3 L465.0,461.2 L465.5,462.4 L465.7,463.3 L466.0,464.1 L466.4,465.1 L466.5,461.4 L467.0,462.7 L467.1,462.7 L467.5,463.5 L467.9,464.5 L468.0,466.5 L468.5,467.7 L468.7,466.9 L469.0,467.6 L469.5,468.4 L469.5,468.4 L470.0,469.4 L470.3,469.0 L470.5,468.9 L471.0,469.7 L471.0,471.4 L471.5,472.3 L471.6,472.5 L472.0,471.8 L472.3,477.1 L472.5,472.3 L473.0,473.1 L473.0,473.1 L473.5,474.2 L473.7,474.5 L474.0,479.6 L474.5,481.0 L474.5,481.0 L475.0,480.6 L475.5,477.5 L475.5,477.6 L476.0,482.7 L476.5,483.1 L477.0,483.3 L477.5,483.8 L478.0,484.1 L478.0,483.0 L478.5,477.5 L479.0,477.7 L479.5,477.9 L479.6,478.2 L480.0,478.3 L480.5,478.4 L481.0,480.5 L481.4,480.6 L481.5,480.6 L482.0,479.1 L482.5,479.2 L483.0,484.2 L483.3,484.1 L483.5,484.1 L484.0,484.1 L484.5,484.5 L485.0,484.5 L485.3,484.0 L485.5,484.0 L486.0,484.0 L486.5,484.0 L487.0,484.0 L487.4,485.6 L487.5,485.6 L488.0,485.6 L488.5,479.6 L489.0,479.6 L489.5,483.2 L489.7,479.4 L490.0,479.4 L490.5,479.4 L491.0,479.5 L491.5,481.1 L492.0,481.2 L492.5,481.2 L493.0,478.6 L493.5,478.6 L494.0,478.7 L494.5,479.1 L495.0,481.4 L495.5,481.4 L495.8,481.5 L496.0,481.0 L496.5,479.7 L497.0,479.9 L497.5,485.2 L498.0,485.2 L498.5,484.0 L499.0,482.9 L499.5,485.3 L499.8,479.0 L500.0,479.0 L500.5,479.0 L501.0,485.0 L501.5,485.4 L502.0,485.9 L502.5,479.3 L503.0,479.4 L503.5,479.4 L504.0,479.4 L504.0,482.1 L504.5,480.7 L505.0,479.8 L505.5,479.8 L506.0,479.9 L506.5,480.1 L507.0,480.4 L507.5,480.4 L508.0,480.4 L508.5,485.7 L508.5,485.7 L509.0,479.2 L509.5,482.0 L510.0,484.7 L510.5,485.6 L511.0,485.6 L511.5,486.3 L512.0,486.3 L512.5,486.3 L513.0,485.7 L513.3,480.2 L513.5,485.2 L514.0,485.2 L514.5,485.2 L515.0,486.0 L515.5,486.0 L516.0,484.6 L516.5,484.6 L517.0,478.9 L517.5,478.9 L518.0,486.4 L518.5,484.9 L518.5,484.9 L519.0,484.9 L519.5,479.0 L520.0,479.0 L520.5,480.3 L521.0,480.3 L521.5,484.0 L522.0,486.1 L522.5,486.3 L523.0,486.3 L523.5,486.3 L524.0,485.3 L524.0,485.3 L524.5,485.3 L525.0,484.2 L525.5,485.5 L526.0,485.5 L526.5,485.5 L527.0,485.8 L527.5,485.8 L528.0,479.0 L528.5,479.0 L529.0,479.0 L529.5,479.6 L530.0,479.6 L530.5,480.6 L531.0,480.6 L531.5,485.2 L532.0,480.7 L532.5,479.0 L533.0,479.0 L533.5,485.5 L534.0,485.5 L534.5,486.0 L535.0,481.7 L535.5,481.7 L536.0,481.7 L536.5,486.1 L537.0,486.1 L537.5,486.0 L538.0,485.5 L538.5,485.5 L539.0,485.3 L539.5,481.8 L540.0,481.8 L540.5,481.8 L541.0,480.5 L541.5,480.5 L542.0,483.7 L542.5,483.7 L542.7,483.7 L543.0,480.6 L543.5,484.3 L544.0,483.7 L544.5,479.6 L545.0,479.6 L545.5,479.6 L546.0,486.3 L546.5,486.3 L547.0,484.7 L547.5,478.7 L548.0,478.7 L548.5,478.7 L549.0,479.9 L549.5,486.3 L550.0,481.7 L550.5,481.7 L551.0,483.5 L551.5,480.5 L552.0,480.5 L552.5,480.5 L553.0,481.3 L553.5,481.3 L554.0,478.7 L554.5,478.7 L555.0,485.9 L555.5,484.7 L556.0,484.7 L556.5,483.9 L557.0,483.9 L557.4,483.9 L557.5,484.1 L558.0,478.8 L558.5,485.8 L559.0,481.0 L559.5,478.7 L560.0,478.7 L560.5,479.1 L561.0,486.1 L561.5,486.3 L562.0,486.3 L562.5,479.8 L563.0,479.8 L563.5,480.2 L564.0,479.2 L564.5,486.1 L565.0,486.1 L565.5,485.0 L566.0,480.4 L566.5,480.4 L567.0,486.0 L567.5,486.0 L568.0,483.8 L568.5,483.8 L569.0,483.8 L569.5,483.8 L570.0,479.5 L570.5,479.5 L571.0,480.5 L571.5,485.0 L572.0,485.0 L572.5,478.7 L573.0,484.5 L573.5,478.9 L573.7,478.9 L574.0,478.6 L574.5,485.9 L575.0,485.9 L575.5,479.8 L576.0,479.8 L576.5,480.1 L577.0,484.3 L577.5,478.8 L578.0,480.7 L578.5,478.7 L579.0,478.7 L579.5,478.7 L580.0,484.1 L580.5,479.4 L581.0,481.4 L581.5,481.4 L582.0,481.4 L582.5,479.6 L583.0,479.6 L583.5,484.5 L584.0,484.5 L584.5,484.5 L585.0,481.9 L585.5,481.9 L586.0,481.9 L586.5,478.7 L587.0,478.7 L587.5,480.7 L588.0,480.7 L588.5,480.8 L589.0,480.8 L589.5,480.0 L590.0,480.0 L590.5,480.0 L591.0,481.0 L591.0,485.8 L591.5,485.8 L592.0,485.8 L592.5,480.3 L593.0,485.0 L593.5,481.8 L594.0,479.3 L594.5,480.2 L595.0,481.1 L595.5,482.9 L596.0,482.9 L596.5,482.9 L597.0,479.1 L597.5,486.0 L598.0,480.3 L598.5,480.3 L599.0,480.3 L599.5,485.3 L600.0,485.3 L600.5,481.0 L601.0,481.0 L601.5,480.9 L602.0,479.4 L602.5,480.8 L603.0,480.8 L603.5,480.8 L604.0,483.9 L604.5,485.5 L605.0,486.1 L605.5,484.6 L606.0,485.6 L606.5,485.6 L607.0,485.9 L607.5,485.1 L608.0,485.1 L608.5,478.6 L609.0,483.6 L609.0,480.0 L609.5,480.4 L610.0,480.4 L610.5,480.4 L611.0,485.7 L611.5,485.7 L612.0,485.7 L612.5,478.7 L613.0,478.6 L613.5,478.6 L614.0,485.3 L614.5,480.3 L615.0,484.1 L615.5,483.5 L616.0,483.5 L616.5,480.9 L617.0,480.9 L617.5,479.6 L618.0,483.6 L618.5,485.9 L619.0,485.9 L619.5,484.1 L620.0,485.8 L620.5,484.0 L621.0,484.0 L621.5,485.9 L622.0,485.9 L622.5,484.9 L623.0,484.9 L623.5,480.3 L624.0,479.4 L624.5,479.4 L625.0,479.4 L625.5,482.6 L626.0,482.6 L626.5,478.6 L627.0,485.1 L627.1,485.1 L627.5,485.1 L628.0,484.2 L628.5,483.1 L629.0,479.3 L629.5,479.3 L630.0,485.3 L630.5,485.3 L631.0,485.3 L631.5,484.5 L632.0,478.3 L632.5,484.4 L633.0,484.4 L633.5,478.9 L634.0,478.9 L634.5,478.8 L635.0,478.8 L635.5,478.8 L636.0,485.6 L636.5,485.8 L637.0,485.5 L637.5,484.6 L638.0,485.7 L638.5,485.7 L639.0,479.7 L639.5,479.7 L640.0,479.7 L640.5,484.2 L641.0,484.2 L641.5,484.4 L642.0,484.4 L642.5,484.4 L643.0,482.4 L643.5,482.4 L644.0,482.4 L644.5,484.7 L645.0,485.6 L645.0,485.6 L645.5,485.6 L646.0,485.0 L646.5,484.3 L647.0,483.8 L647.5,483.8 L648.0,483.8 L648.5,481.4 L649.0,481.4 L649.5,484.2 L650.0,484.2 L650.5,484.9 L651.0,484.9 L651.5,484.9 L652.0,484.7 L652.5,484.7 L653.0,479.2 L653.5,484.4 L654.0,484.4 L654.5,484.4 L655.0,478.4 L655.5,478.4 L656.0,478.4 L656.5,484.5 L657.0,484.5 L657.5,480.4 L658.0,480.4 L658.5,485.9 L659.0,485.9 L659.5,480.7 L660.0,480.7 L660.5,485.5 L661.0,485.5 L661.5,485.5 L662.0,479.2" stroke="#70AD47" stroke-width="2.2"/><path d="M140.0,167.2V171.2M143.0,167.2V170.8M155.0,167.2V170.3M156.0,159.8V156.9M159.0,174.8V177.3M165.0,167.2V161.6M169.0,167.2V161.6M174.0,174.8V180.5M198.0,167.2V162.9M200.0,174.8V177.7M206.0,167.2V162.4M209.0,174.8V178.2M210.0,174.8V178.8M230.0,161.2V157.0M238.0,168.8V171.9M241.0,161.2V156.8M244.0,161.2V157.7M245.0,161.2V156.2M253.0,161.2V156.4M262.0,163.5V157.8M263.0,165.8V163.1M267.0,165.8V162.2M276.0,173.2V178.7M278.0,165.8V160.3M279.0,165.8V162.4M282.5,167.8V162.8M286.0,167.8V161.9M293.0,167.8V162.8M296.0,167.8V162.6M305.0,167.8V164.0M324.2,168.1V164.6M325.7,168.4V164.9M326.9,168.7V165.1M328.0,176.6V179.1M328.7,176.8V181.8M329.3,169.5V165.3M331.1,170.1V164.4M335.0,179.1V184.3M346.0,183.1V186.3M351.0,186.5V190.7M352.0,183.2V177.4M353.0,187.9V191.1M354.0,184.6V178.7M356.0,190.1V195.7M359.4,192.6V196.8M361.0,189.8V186.4M365.0,197.0V202.7M366.0,197.9V203.2M367.9,199.6V204.0M368.0,199.7V203.4M369.5,201.1V206.8M373.0,204.5V208.2M374.4,201.9V195.5M375.0,202.6V197.5M377.0,204.8V199.6M378.5,206.6V202.0M396.0,317.6V324.6M396.1,318.1V324.4M396.5,319.3V326.2M397.0,316.7V310.6M397.4,317.8V313.3M398.7,324.3V328.5M402.4,325.6V319.7M404.5,332.0V336.5M406.0,329.4V324.0M407.4,334.3V341.0M408.0,334.6V338.4M409.4,331.3V328.2M410.5,331.8V326.6M412.0,336.8V343.3M414.0,335.0V330.6M416.0,342.8V346.5M420.1,349.8V345.5M422.0,358.1V361.7M424.1,358.1V352.8M424.9,363.6V368.4M425.0,363.8V367.4M429.1,373.7V379.0M439.1,399.5V395.1M444.0,417.1V423.5M446.4,419.7V415.5M449.0,430.8V434.5M451.0,435.6V440.5M452.9,435.5V431.8M458.7,450.6V456.9M465.0,457.9V453.3M468.0,469.3V476.0M469.0,471.5V477.0M470.0,468.2V464.6M471.0,476.4V482.7M480.0,484.3V487.3M483.3,478.3V472.2M484.0,478.3V474.8M486.0,484.9V491.7M487.0,485.0V488.7M488.0,485.0V488.1M489.0,485.1V492.0M495.0,478.9V473.0M498.0,485.6V490.8M501.0,479.2V475.2M503.0,485.7V489.5M506.0,479.2V474.0M514.0,485.8V491.5M518.0,485.7V492.3M520.0,485.7V492.2M522.0,485.7V489.2M523.0,479.2V472.6M524.0,485.7V489.4M525.0,485.7V490.1M529.0,485.7V489.7M531.0,479.3V474.2M533.0,485.8V488.8M536.0,479.3V474.3M538.0,479.3V473.5M541.0,485.8V490.2M543.0,485.8V492.6M546.0,479.3V475.2M547.0,485.8V490.8M550.0,485.8V491.5M563.0,479.2V472.2M569.0,479.2V475.4M573.0,479.2V473.4M577.0,485.7V491.7M581.0,485.7V491.2M591.0,479.1V473.7M596.0,485.6V489.2M601.0,485.6V489.3M607.0,485.5V490.1M609.0,479.0V475.4M609.0,485.5V489.9M612.0,485.5V490.1M618.0,485.5V491.2M620.0,479.0V474.5M622.0,485.4V489.3M623.0,485.4V489.2M626.0,478.9V472.6M628.0,485.4V490.1M631.0,485.4V490.2M641.0,485.3V492.2M645.0,485.3V491.3M649.0,485.3V490.7M662.0,485.2V491.0" stroke="#70AD47" stroke-width="2.2" stroke-linecap="butt"/>
<path d="M132.0,480.5 L133.0,480.5 L134.0,480.5 L135.0,480.5 L136.0,480.5 L137.0,480.5 L138.0,480.5 L139.0,480.5 L140.0,480.5 L141.0,480.5 L142.0,480.5 L143.0,480.5 L144.0,480.5 L145.0,480.5 L146.0,480.5 L147.0,480.5 L148.0,480.5 L149.0,480.5 L150.0,480.5 L151.0,480.5 L152.0,480.5 L153.0,480.5 L154.0,480.5 L155.0,480.5 L156.0,480.5 L157.0,480.5 L158.0,480.5 L159.0,480.5 L160.0,480.5 L161.0,480.5 L162.0,480.5 L163.0,480.5 L164.0,480.5 L165.0,480.5 L166.0,480.5 L167.0,480.5 L168.0,480.5 L169.0,480.5 L170.0,480.5 L171.0,480.5 L172.0,480.5 L173.0,480.5 L174.0,480.5 L175.0,480.5 L176.0,480.5 L177.0,480.5 L178.0,480.5 L179.0,480.5 L180.0,480.5 L181.0,480.5 L182.0,480.5 L183.0,480.5 L184.0,480.5 L185.0,480.5 L186.0,480.5 L187.0,480.5 L188.0,480.5 L189.0,480.5 L190.0,480.5 L191.0,480.5 L192.0,480.5 L193.0,480.5 L194.0,480.5 L195.0,480.5 L196.0,480.5 L197.0,480.5 L198.0,480.5 L199.0,480.5 L200.0,480.5 L201.0,480.5 L202.0,480.5 L203.0,480.5 L204.0,480.5 L205.0,480.5 L206.0,480.5 L207.0,480.5 L208.0,480.5 L209.0,480.5 L210.0,480.5 L211.0,480.5 L212.0,480.5 L213.0,480.5 L214.0,480.5 L215.0,480.5 L216.0,480.5 L217.0,480.5 L218.0,480.5 L219.0,480.5 L220.0,480.5 L221.0,480.5 L222.0,480.5 L223.0,480.5 L224.0,480.5 L225.0,480.5 L226.0,480.5 L227.0,480.5 L228.0,480.5 L229.0,480.5 L230.0,480.5 L231.0,480.6 L232.0,480.7 L233.0,480.8 L234.0,480.9 L235.0,481.0 L236.0,481.1 L237.0,481.2 L238.0,481.3 L239.0,481.4 L240.0,481.5 L241.0,481.6 L242.0,481.7 L243.0,481.8 L244.0,481.9 L245.0,482.0 L246.0,482.0 L247.0,482.0 L248.0,482.0 L249.0,482.0 L250.0,482.0 L251.0,482.0 L252.0,482.0 L253.0,482.0 L254.0,482.0 L255.0,482.0 L256.0,482.0 L257.0,482.0 L258.0,482.0 L259.0,482.0 L260.0,482.0 L261.0,482.0 L262.0,482.0 L263.0,482.0 L264.0,482.0 L265.0,482.0 L266.0,482.0 L267.0,482.0 L268.0,482.0 L269.0,482.0 L270.0,482.0 L271.0,482.0 L272.0,482.0 L273.0,482.0 L274.0,482.0 L275.0,482.0 L276.0,482.0 L277.0,482.0 L278.0,482.0 L279.0,482.0 L280.0,482.0 L281.0,482.0 L282.0,482.0 L283.0,482.0 L284.0,482.0 L285.0,482.0 L286.0,482.0 L287.0,482.0 L288.0,482.0 L289.0,482.0 L290.0,482.0 L291.0,482.0 L292.0,482.0 L293.0,482.0 L294.0,482.0 L295.0,482.0 L296.0,482.0 L297.0,482.0 L298.0,482.0 L299.0,482.0 L300.0,482.0 L301.0,482.0 L302.0,482.0 L303.0,482.0 L304.0,482.0 L305.0,482.0 L306.0,482.0 L307.0,482.0 L308.0,482.0 L309.0,482.0 L310.0,482.0 L311.0,482.0 L312.0,482.0 L313.0,482.0 L314.0,482.0 L315.0,482.0 L316.0,482.0 L317.0,482.0 L318.0,482.0 L319.0,482.0 L320.0,482.0 L321.0,481.5 L322.0,481.0" stroke="#4472C4" stroke-width="8" stroke-linecap="round"/><path d="M322.0,481.0 L323.0,480.5 L324.0,480.0 L325.0,475.4 L326.0,470.9 L327.0,466.3 L328.0,461.7 L328.6,459.0 L329.0,457.4 L330.0,453.4 L331.0,449.5 L332.0,445.5 L333.0,441.5 L333.3,440.3 L334.0,438.0 L335.0,434.7 L336.0,431.5 L337.0,428.2 L338.0,424.9 L339.0,421.6 L339.5,420.0 L340.0,417.8 L341.0,413.3 L342.0,408.9 L343.0,404.4 L344.0,400.0 L345.0,392.6 L346.0,385.1 L347.0,377.7 L348.0,370.2 L349.0,362.8 L350.0,355.3 L351.0,347.9 L352.0,340.5 L353.0,333.0 L353.7,327.8 L354.0,325.8 L355.0,318.9 L356.0,312.1 L357.0,305.3 L358.0,298.4 L359.0,291.6 L360.0,284.8 L360.7,280.0 L361.0,276.3 L362.0,263.8 L363.0,251.4 L364.0,239.0 L365.0,234.2 L366.0,229.4 L366.3,228.0 L367.0,221.1 L368.0,211.3 L369.0,201.6 L370.0,191.8 L371.0,182.0 L371.2,180.0 L372.0,173.7 L373.0,165.7 L374.0,157.8 L375.0,149.9 L376.0,141.9 L377.0,134.0 L378.0,123.8 L379.0,113.6 L380.0,103.5 L381.0,93.3 L382.0,83.1 L382.5,78.0 L383.0,73.0 L383.8,65.0 L384.0,65.0 L385.0,65.0 L386.0,65.0 L386.8,65.0 L387.0,69.1 L388.0,89.7 L388.5,100.0 L389.0,116.0 L390.0,148.0 L391.0,180.0 L392.0,205.6 L392.7,223.5 L393.0,219.4 L394.0,205.8 L395.0,192.1 L396.0,178.5 L397.0,164.9 L398.0,151.3 L399.0,137.6 L399.2,134.9 L400.0,145.0 L401.0,157.6 L402.0,170.2 L403.0,182.8 L404.0,195.5 L405.0,208.1 L406.0,220.7 L406.5,227.0 L407.0,221.8 L408.0,211.5 L409.0,201.2 L410.0,190.8 L411.0,180.5 L411.9,171.2 L412.0,171.7 L413.0,176.5 L414.0,181.2 L415.0,186.0 L416.0,190.8 L417.0,195.6 L418.0,200.4 L419.0,205.2 L419.3,206.6 L420.0,203.6 L421.0,199.3 L422.0,195.0 L423.0,190.7 L424.0,186.4 L425.0,182.0 L426.0,177.7 L427.0,173.4 L427.1,173.0 L428.0,176.2 L429.0,179.7 L430.0,183.2 L431.0,186.8 L432.0,190.3 L433.0,193.8 L433.7,196.3 L434.0,195.6 L435.0,193.3 L436.0,191.1 L437.0,188.8 L438.0,186.5 L439.0,184.2 L440.0,182.0 L440.6,180.6 L441.0,181.9 L442.0,185.1 L443.0,188.2 L444.0,191.4 L445.0,194.6 L446.0,197.8 L447.0,201.0 L448.0,198.6 L449.0,196.2 L450.0,193.8" stroke="#4472C4" stroke-width="3.4" stroke-linecap="round"/><path d="M450.0,193.8 L451.0,191.4 L452.0,189.0 L453.0,189.1 L454.0,189.1 L455.0,189.2 L456.0,189.2 L457.0,189.3 L458.0,189.3 L459.0,189.4 L460.0,189.4 L461.0,189.5 L462.0,189.6 L463.0,189.6 L464.0,189.7 L465.0,189.7 L466.0,189.8 L467.0,189.8 L468.0,189.9 L469.0,189.9 L470.0,190.0 L471.0,190.0 L472.0,190.0 L473.0,190.0 L474.0,190.0 L475.0,190.0 L476.0,190.0 L477.0,190.0 L478.0,190.0 L479.0,190.1 L480.0,190.1 L481.0,190.1 L482.0,190.1 L483.0,190.1 L484.0,190.1 L485.0,190.1 L486.0,190.1 L487.0,190.1 L488.0,190.1 L489.0,190.1 L490.0,190.1 L491.0,190.1 L492.0,190.1 L493.0,190.1 L494.0,190.1 L495.0,190.1 L496.0,190.1 L497.0,190.2 L498.0,190.2 L499.0,190.2 L500.0,190.2 L501.0,190.2 L502.0,190.2 L503.0,190.2 L504.0,190.2 L505.0,190.2 L506.0,190.2 L507.0,190.2 L508.0,190.2 L509.0,190.2 L510.0,190.2 L511.0,190.2 L512.0,190.2 L513.0,190.2 L514.0,190.2 L515.0,190.2 L516.0,190.3 L517.0,190.3 L518.0,190.3 L519.0,190.3 L520.0,190.3 L521.0,190.3 L522.0,190.3 L523.0,190.3 L524.0,190.3 L525.0,190.3 L526.0,190.3 L527.0,190.3 L528.0,190.3 L529.0,190.3 L530.0,190.3 L531.0,190.3 L532.0,190.3 L533.0,190.3 L534.0,190.4 L535.0,190.4 L536.0,190.4 L537.0,190.4 L538.0,190.4 L539.0,190.4 L540.0,190.4 L541.0,190.4 L542.0,190.4 L543.0,190.4 L544.0,190.4 L545.0,190.4 L546.0,190.4 L547.0,190.4 L548.0,190.4 L549.0,190.4 L550.0,190.4 L551.0,190.4 L552.0,190.5 L553.0,190.5 L554.0,190.5 L555.0,190.5 L556.0,190.5 L557.0,190.5 L558.0,190.5 L559.0,190.5 L560.0,190.5 L561.0,190.6 L562.0,190.8 L563.0,190.9 L564.0,191.0 L565.0,189.7 L566.0,188.3 L567.0,187.0 L568.0,187.0 L569.0,187.0 L570.0,187.0 L571.0,187.0 L572.0,187.0 L573.0,187.0 L574.0,187.0 L575.0,187.0 L576.0,187.0 L577.0,187.0 L578.0,187.0 L579.0,187.0 L580.0,187.0 L581.0,187.0 L582.0,187.0 L583.0,187.0 L584.0,187.0 L585.0,187.0 L586.0,187.0 L587.0,187.0 L588.0,187.0 L589.0,187.0 L590.0,187.0 L591.0,187.0 L592.0,187.0 L593.0,187.0 L594.0,187.0 L595.0,187.0 L596.0,187.0 L597.0,187.0 L598.0,187.0 L599.0,187.0 L600.0,187.0 L601.0,187.0 L602.0,187.0 L603.0,187.0 L604.0,187.0 L605.0,187.0 L606.0,187.0 L607.0,187.0 L608.0,187.0 L609.0,187.0 L610.0,187.0 L611.0,187.0 L612.0,187.0 L613.0,187.0 L614.0,187.0 L615.0,187.0 L616.0,187.0 L617.0,187.0 L618.0,187.0 L619.0,187.0 L620.0,187.0 L621.0,187.0 L622.0,187.0 L623.0,187.0 L624.0,187.0 L625.0,187.0 L626.0,187.0 L627.0,187.0 L628.0,187.0 L629.0,187.0 L630.0,187.0 L631.0,187.0 L632.0,187.0 L633.0,187.0 L634.0,187.0 L635.0,187.0 L636.0,187.0 L637.0,187.0 L638.0,187.0 L639.0,187.0 L640.0,187.0 L641.0,187.0 L642.0,187.0 L643.0,187.0 L644.0,187.0 L645.0,187.0 L646.0,187.0 L647.0,187.0 L648.0,187.0 L649.0,187.0 L650.0,187.0 L651.0,187.0 L652.0,187.0 L653.0,187.0 L654.0,187.0 L655.0,187.0 L656.0,187.0 L657.0,187.0 L658.0,187.0 L659.0,187.0 L660.0,187.0 L661.0,187.0 L662.0,187.0" stroke="#4472C4" stroke-width="8" stroke-linecap="round"/><path d="M132.0,484.0 L132.5,478.6 L133.0,479.2 L133.5,477.5 L134.0,477.1 L134.5,477.1 L135.0,477.1 L135.5,477.5 L136.0,477.5 L136.5,477.5 L137.0,476.5 L137.5,478.2 L138.0,478.8 L138.5,478.8 L139.0,481.7 L139.5,481.7 L140.0,481.7 L140.5,483.8 L141.0,483.8 L141.5,483.4 L142.0,483.4 L142.5,483.4 L143.0,478.3 L143.5,484.1 L144.0,484.1 L144.5,482.3 L145.0,477.6 L145.5,477.6 L146.0,483.7 L146.5,484.4 L147.0,484.4 L147.5,477.8 L148.0,480.9 L148.5,484.4 L149.0,484.4 L149.5,478.4 L150.0,478.4 L150.5,478.4 L151.0,482.3 L151.5,483.0 L152.0,483.0 L152.5,483.0 L153.0,476.8 L153.5,477.9 L154.0,479.0 L154.5,482.2 L155.0,482.4 L155.5,482.4 L156.0,477.6 L156.5,477.0 L157.0,477.8 L157.5,476.6 L158.0,476.6 L158.5,476.6 L159.0,477.3 L159.5,477.3 L160.0,483.8 L160.5,476.7 L161.0,478.9 L161.5,478.9 L162.0,478.9 L162.5,484.0 L163.0,484.0 L163.5,478.3 L164.0,478.3 L164.5,483.5 L165.0,476.6 L165.5,484.4 L166.0,484.4 L166.5,482.1 L167.0,482.1 L167.5,477.3 L168.0,477.8 L168.5,482.8 L169.0,482.8 L169.5,482.8 L170.0,479.7 L170.5,479.7 L171.0,477.3 L171.5,478.3 L172.0,478.3 L172.5,477.0 L173.0,477.0 L173.5,477.0 L174.0,478.7 L174.5,478.7 L175.0,483.6 L175.5,479.0 L176.0,479.0 L176.5,477.5 L177.0,477.5 L177.5,477.5 L178.0,478.2 L178.5,481.4 L179.0,481.4 L179.5,483.2 L180.0,483.9 L180.5,476.9 L181.0,476.9 L181.5,477.1 L182.0,477.1 L182.5,477.1 L183.0,477.0 L183.5,477.4 L184.0,477.4 L184.5,477.4 L185.0,479.8 L185.5,483.7 L186.0,483.5 L186.5,483.5 L187.0,478.1 L187.5,482.1 L188.0,480.8 L188.5,480.8 L189.0,480.8 L189.5,482.0 L190.0,476.7 L190.5,477.7 L191.0,483.2 L191.5,477.7 L192.0,477.7 L192.5,478.4 L193.0,476.7 L193.5,480.0 L194.0,484.1 L194.5,479.3 L195.0,476.8 L195.5,483.0 L196.0,483.5 L196.5,477.2 L197.0,478.5 L197.5,479.4 L198.0,479.4 L198.5,479.7 L199.0,482.8 L199.5,482.8 L200.0,482.8 L200.5,480.1 L201.0,480.1 L201.5,480.1 L202.0,481.2 L202.5,477.1 L203.0,476.9 L203.5,478.7 L204.0,483.9 L204.5,476.9 L205.0,476.9 L205.5,476.9 L206.0,477.7 L206.5,477.7 L207.0,477.0 L207.5,476.8 L208.0,484.0 L208.5,483.6 L209.0,483.6 L209.5,483.6 L210.0,482.0 L210.5,482.0 L211.0,477.0 L211.5,483.0 L212.0,483.0 L212.5,479.5 L213.0,479.5 L213.5,478.5 L214.0,478.5 L214.5,478.5 L215.0,476.8 L215.5,483.8 L216.0,483.8 L216.5,483.8 L217.0,484.1 L217.5,484.1 L218.0,484.1 L218.5,478.6 L219.0,478.6 L219.5,484.1 L220.0,483.3 L220.5,476.8 L221.0,476.8 L221.5,476.8 L222.0,483.1 L222.5,483.1 L223.0,482.0 L223.5,478.1 L224.0,478.1 L224.5,478.1 L225.0,478.3 L225.5,482.2 L226.0,482.2 L226.5,482.2 L227.0,483.8 L227.5,478.6 L228.0,484.1 L228.5,482.6 L229.0,482.1 L229.5,482.1 L230.0,482.7 L230.5,482.8 L231.0,476.9 L231.5,483.6 L232.0,479.4 L232.5,483.8 L233.0,483.8 L233.5,484.1 L234.0,484.2 L234.5,484.2 L235.0,477.1 L235.5,477.2 L236.0,482.2 L236.5,482.3 L237.0,483.3 L237.5,483.3 L238.0,483.5 L238.5,483.6 L239.0,483.6 L239.5,477.6 L240.0,477.7 L240.5,477.7 L241.0,484.0 L241.5,477.9 L242.0,484.4 L242.5,482.5 L243.0,482.5 L243.5,483.3 L244.0,483.4 L244.5,480.2 L245.0,483.7 L245.5,483.7 L246.0,479.8 L246.5,485.0 L247.0,485.0 L247.5,485.0 L248.0,478.4 L248.5,478.4 L249.0,478.4 L249.5,485.9 L250.0,485.9 L250.5,484.3 L251.0,484.3 L251.5,484.3 L252.0,478.4 L252.5,478.4 L253.0,480.2 L253.5,479.8 L254.0,485.8 L254.5,485.8 L255.0,485.5 L255.5,485.5 L256.0,479.9 L256.5,479.9 L257.0,479.9 L257.5,478.8 L258.0,478.8 L258.5,478.8 L259.0,483.3 L259.5,483.3 L260.0,484.5 L260.5,484.5 L261.0,484.5 L261.5,484.1 L262.0,484.8 L262.5,484.8 L263.0,484.8 L263.5,478.5 L264.0,478.5 L264.5,480.4 L265.0,480.4 L265.5,480.4 L266.0,485.5 L266.5,485.5 L267.0,484.4 L267.5,484.4 L268.0,484.4 L268.5,485.7 L269.0,484.7 L269.5,479.1 L270.0,479.1 L270.5,485.1 L271.0,485.1 L271.5,486.0 L272.0,478.5 L272.5,478.5 L273.0,478.5 L273.5,478.1 L274.0,478.1 L274.5,484.5 L275.0,484.5 L275.5,484.5 L276.0,484.5 L276.5,485.7 L277.0,485.3 L277.5,485.3 L278.0,480.2 L278.5,483.0 L279.0,479.0 L279.5,479.0 L280.0,479.0 L280.5,479.0 L281.0,479.0 L281.5,480.4 L282.0,478.2 L282.5,485.7 L283.0,485.1 L283.5,485.1 L284.0,478.5 L284.5,478.5 L285.0,478.2 L285.5,478.2 L286.0,479.6 L286.5,482.6 L287.0,478.3 L287.5,478.3 L288.0,481.8 L288.5,484.1 L289.0,485.1 L289.5,479.1 L290.0,479.1 L290.5,479.1 L291.0,479.2 L291.5,479.2 L292.0,485.9 L292.5,479.0 L293.0,485.7 L293.5,478.5 L294.0,484.6 L294.5,485.4 L295.0,484.5 L295.5,484.5 L296.0,484.5 L296.5,478.7 L297.0,485.9 L297.5,485.9 L298.0,483.1 L298.5,483.1 L299.0,483.1 L299.5,479.4 L300.0,479.4 L300.5,479.4 L301.0,479.7 L301.5,479.5 L302.0,479.5 L302.5,480.9 L303.0,485.5 L303.5,483.8 L304.0,483.8 L304.5,478.2 L305.0,479.6 L305.5,479.6 L306.0,479.6 L306.5,478.3 L307.0,478.3 L307.5,485.2 L308.0,485.2 L308.5,484.2 L309.0,478.7 L309.5,478.7 L310.0,478.7 L310.5,478.4 L311.0,478.4 L311.5,478.4 L312.0,479.7 L312.5,485.5 L313.0,485.5 L313.5,485.5 L314.0,486.0 L314.5,486.0 L315.0,484.8 L315.5,479.1 L316.0,479.1 L316.5,483.8 L317.0,483.8 L317.5,478.1 L318.0,485.9 L318.5,485.9 L319.0,485.9 L319.5,483.6 L320.0,483.6 L320.5,483.4 L321.0,480.0 L321.5,477.8 L322.0,477.6 L322.5,477.3 L323.0,480.5 L323.5,480.6 L324.0,479.6 L324.5,477.3 L325.0,475.7 L325.5,473.0 L326.0,470.7 L326.5,469.0 L327.0,465.9 L327.5,463.6 L328.0,461.4 L328.5,459.8 L328.6,459.3 L329.0,457.7 L329.5,455.1 L330.0,453.6 L330.5,451.8 L331.0,449.8 L331.5,447.8 L332.0,445.3 L332.5,443.3 L333.0,441.4 L333.3,440.4 L333.5,439.6 L334.0,437.8 L334.5,436.3 L335.0,434.9 L335.5,432.7 L336.0,431.1 L336.5,429.4 L337.0,428.3 L337.5,426.6 L338.0,425.0 L338.5,423.0 L339.0,421.5 L339.5,420.1 L340.0,417.9 L340.5,415.7 L341.0,413.2 L341.5,410.8 L342.0,408.6 L342.5,406.3 L343.0,404.7 L343.5,402.2 L344.0,399.9 L344.5,396.2 L345.0,392.4 L345.5,389.2 L346.0,385.4 L346.5,381.0 L347.0,377.4 L347.5,373.7 L348.0,370.6 L348.5,366.8 L349.0,363.1 L349.5,359.0 L350.0,355.2 L350.5,351.9 L351.0,348.2 L351.5,344.4 L352.0,340.1 L352.5,336.4 L353.0,332.6 L353.5,328.9 L353.7,327.4 L354.0,325.6 L354.5,322.2 L355.0,319.1 L355.5,315.9 L356.0,312.4 L356.5,308.5 L357.0,305.0 L357.5,301.6 L358.0,298.2 L358.5,295.2 L359.0,291.4 L359.5,288.4 L360.0,285.0 L360.5,281.4 L360.7,280.4 L361.0,276.2 L361.5,270.0 L362.0,264.2 L362.5,258.0 L363.0,251.1 L363.5,244.9 L364.0,238.7 L364.5,236.4 L365.0,233.8 L365.5,231.4 L366.0,229.0 L366.3,227.7 L366.5,226.4 L367.0,221.4 L367.5,215.9 L368.0,211.7 L368.5,206.7 L369.0,201.2 L369.5,197.0 L370.0,191.4 L370.5,186.5 L371.0,181.6 L371.2,180.1 L371.5,177.5 L372.0,173.4 L372.5,169.4 L373.0,165.4 L373.5,162.1 L374.0,158.2 L374.5,154.2 L375.0,149.5 L375.5,145.5 L376.0,142.2 L376.5,138.4 L377.0,134.2 L377.5,128.7 L378.0,123.4 L378.5,118.4 L379.0,113.8 L379.5,108.4 L380.0,103.1 L380.5,98.0 L381.0,93.4 L381.5,88.3 L382.0,83.3 L382.5,77.9 L383.0,72.9 L383.5,67.8 L383.8,65.2 L384.0,64.8 L384.5,64.8 L385.0,65.2 L385.5,64.6 L386.0,65.3 L386.5,64.7 L386.8,65.4 L387.0,69.3 L387.5,79.3 L388.0,89.6 L388.5,99.9 L389.0,116.2 L389.5,132.3 L390.0,147.7 L390.5,163.7 L391.0,179.7 L391.5,192.5 L392.0,205.3 L392.5,218.1 L392.7,223.9 L393.0,219.7 L393.5,212.5 L394.0,205.7 L394.5,199.2 L395.0,192.4 L395.5,185.2 L396.0,178.9 L396.5,172.0 L397.0,165.2 L397.5,158.0 L398.0,151.2 L398.5,144.3 L399.0,137.4 L399.2,135.1 L399.5,138.9 L400.0,145.2 L400.5,151.5 L401.0,157.5 L401.5,163.8 L402.0,170.1 L402.5,176.7 L403.0,183.0 L403.5,189.3 L404.0,195.6 L404.5,201.9 L405.0,208.3 L405.5,214.1 L406.0,220.3 L406.5,227.2 L407.0,222.0 L407.5,216.3 L408.0,211.1 L408.5,206.0 L409.0,201.5 L409.5,196.2 L410.0,191.1 L410.5,185.4 L411.0,180.3 L411.5,174.9 L411.9,170.8 L412.0,171.3 L412.5,173.7 L413.0,176.9 L413.5,178.6 L414.0,181.0 L414.5,183.4 L415.0,185.7 L415.5,188.1 L416.0,191.2 L416.5,193.6 L417.0,196.0 L417.5,198.2 L418.0,200.6 L418.5,202.5 L419.0,204.9 L419.3,206.9 L419.5,206.1 L420.0,203.4 L420.5,201.3 L421.0,199.6 L421.5,197.4 L422.0,195.2 L422.5,192.6 L423.0,191.1 L423.5,188.1 L424.0,186.7 L424.5,184.0 L425.0,181.7 L425.5,179.6 L426.0,177.4 L426.5,175.8 L427.0,173.0 L427.1,172.6 L427.5,174.5 L428.0,176.3 L428.5,178.1 L429.0,179.3 L429.5,181.1 L430.0,183.0 L430.5,184.7 L431.0,186.5 L431.5,188.3 L432.0,190.7 L432.5,192.3 L433.0,194.0 L433.5,195.3 L433.7,196.0 L434.0,195.8 L434.5,194.7 L435.0,193.1 L435.5,191.9 L436.0,190.7 L436.5,190.1 L437.0,189.0 L437.5,187.4 L438.0,186.2 L438.5,185.1 L439.0,184.0 L439.5,182.7 L440.0,181.7 L440.5,180.5 L440.6,180.3 L441.0,181.5 L441.5,183.8 L442.0,185.4 L442.5,187.0 L443.0,188.6 L443.5,189.4 L444.0,191.6 L444.5,193.3 L445.0,194.9 L445.5,196.5 L446.0,198.0 L446.5,199.6 L447.0,201.2 L447.5,200.0 L448.0,198.8 L448.5,197.6 L449.0,195.9 L449.5,195.2 L450.0,194.0 L450.5,189.4 L451.0,194.9 L451.5,193.7 L452.0,190.6 L452.5,192.7 L453.0,185.3 L453.5,185.3 L454.0,185.3 L454.5,189.8 L455.0,188.0 L455.5,187.5 L456.0,193.0 L456.5,188.6 L457.0,185.3 L457.5,191.6 L458.0,191.6 L458.5,191.5 L459.0,191.5 L459.5,191.6 L460.0,191.8 L460.5,191.1 L461.0,186.3 L461.5,186.4 L462.0,186.0 L462.5,186.0 L463.0,192.4 L463.5,186.5 L464.0,186.0 L464.5,186.0 L465.0,186.1 L465.5,191.9 L466.0,187.5 L466.5,191.0 L467.0,186.3 L467.5,186.3 L468.0,186.3 L468.5,193.5 L469.0,186.3 L469.5,186.3 L470.0,186.4 L470.5,191.5 L471.0,188.7 L471.5,188.7 L472.0,188.7 L472.5,186.5 L473.0,186.6 L473.5,186.6 L474.0,193.4 L474.5,186.6 L475.0,191.9 L475.5,191.9 L476.0,191.9 L476.5,186.2 L477.0,194.0 L477.5,194.0 L478.0,188.5 L478.5,193.6 L479.0,193.6 L479.5,192.3 L480.0,192.3 L480.5,186.5 L481.0,186.5 L481.5,187.9 L482.0,187.9 L482.5,188.5 L483.0,190.8 L483.5,190.8 L484.0,186.5 L484.5,186.5 L485.0,193.0 L485.5,186.8 L486.0,186.8 L486.5,186.8 L487.0,192.9 L487.5,192.9 L488.0,187.4 L488.5,187.4 L489.0,187.4 L489.5,193.6 L490.0,193.6 L490.5,193.6 L491.0,193.6 L491.5,188.8 L492.0,188.8 L492.5,188.8 L493.0,186.9 L493.5,186.9 L494.0,189.4 L494.5,187.4 L495.0,193.4 L495.5,193.4 L496.0,193.0 L496.5,193.5 L497.0,188.0 L497.5,186.8 L498.0,186.8 L498.5,186.5 L499.0,186.5 L499.5,186.5 L500.0,188.2 L500.5,188.2 L501.0,188.2 L501.5,193.5 L502.0,193.5 L502.5,186.4 L503.0,186.4 L503.5,186.4 L504.0,189.0 L504.5,189.0 L505.0,189.0 L505.5,192.1 L506.0,193.7 L506.5,193.7 L507.0,193.7 L507.5,186.8 L508.0,186.4 L508.5,186.4 L509.0,186.4 L509.5,186.5 L510.0,186.5 L510.5,189.6 L511.0,189.6 L511.5,189.6 L512.0,186.3 L512.5,186.3 L513.0,191.9 L513.5,191.9 L514.0,187.0 L514.5,186.5 L515.0,186.5 L515.5,186.7 L516.0,186.7 L516.5,186.5 L517.0,186.5 L517.5,186.6 L518.0,186.6 L518.5,192.5 L519.0,192.5 L519.5,192.7 L520.0,189.8 L520.5,189.8 L521.0,189.8 L521.5,186.7 L522.0,186.8 L522.5,186.8 L523.0,193.1 L523.5,193.1 L524.0,192.9 L524.5,192.9 L525.0,188.3 L525.5,188.3 L526.0,188.0 L526.5,194.1 L527.0,186.8 L527.5,186.8 L528.0,186.8 L528.5,193.1 L529.0,193.1 L529.5,193.1 L530.0,186.9 L530.5,186.9 L531.0,189.3 L531.5,194.1 L532.0,187.9 L532.5,193.8 L533.0,193.6 L533.5,193.6 L534.0,194.3 L534.5,194.3 L535.0,192.6 L535.5,192.6 L536.0,193.8 L536.5,193.8 L537.0,187.3 L537.5,193.0 L538.0,188.6 L538.5,188.6 L539.0,194.2 L539.5,187.7 L540.0,187.7 L540.5,187.7 L541.0,187.0 L541.5,187.0 L542.0,187.0 L542.5,188.7 L543.0,188.7 L543.5,191.7 L544.0,188.0 L544.5,188.0 L545.0,188.0 L545.5,188.0 L546.0,192.2 L546.5,192.2 L547.0,193.3 L547.5,193.4 L548.0,187.3 L548.5,187.3 L549.0,187.3 L549.5,188.7 L550.0,191.4 L550.5,187.6 L551.0,194.3 L551.5,188.9 L552.0,188.9 L552.5,188.9 L553.0,187.9 L553.5,187.9 L554.0,192.4 L554.5,191.4 L555.0,194.3 L555.5,187.5 L556.0,188.6 L556.5,186.5 L557.0,193.9 L557.5,194.1 L558.0,194.1 L558.5,194.1 L559.0,187.7 L559.5,194.2 L560.0,192.0 L560.5,192.1 L561.0,192.1 L561.5,187.5 L562.0,187.6 L562.5,194.3 L563.0,189.0 L563.5,189.0 L564.0,189.1 L564.5,193.5 L565.0,192.8 L565.5,190.6 L566.0,189.5 L566.5,189.1 L567.0,188.4 L567.5,184.4 L568.0,184.4 L568.5,184.4 L569.0,189.8 L569.5,189.8 L570.0,189.9 L570.5,189.9 L571.0,189.9 L571.5,184.2 L572.0,184.6 L572.5,184.6 L573.0,184.6 L573.5,184.5 L574.0,184.5 L574.5,189.3 L575.0,189.3 L575.5,189.3 L576.0,184.3 L576.5,183.3 L577.0,183.3 L577.5,183.3 L578.0,189.9 L578.5,189.9 L579.0,189.9 L579.5,190.1 L580.0,183.1 L580.5,190.3 L581.0,190.3 L581.5,190.3 L582.0,190.1 L582.5,190.6 L583.0,190.2 L583.5,190.2 L584.0,185.5 L584.5,190.6 L585.0,190.6 L585.5,190.6 L586.0,189.1 L586.5,190.0 L587.0,190.0 L587.5,188.4 L588.0,188.4 L588.5,190.1 L589.0,190.1 L589.5,184.6 L590.0,184.6 L590.5,184.6 L591.0,184.6 L591.5,190.8 L592.0,190.8 L592.5,188.6 L593.0,188.6 L593.5,188.6 L594.0,185.9 L594.5,183.6 L595.0,184.8 L595.5,184.4 L596.0,183.1 L596.5,184.4 L597.0,183.5 L597.5,183.5 L598.0,183.5 L598.5,188.2 L599.0,183.0 L599.5,186.1 L600.0,186.4 L600.5,184.3 L601.0,185.2 L601.5,185.2 L602.0,184.6 L602.5,184.6 L603.0,184.6 L603.5,189.5 L604.0,189.5 L604.5,188.9 L605.0,185.4 L605.5,190.2 L606.0,189.9 L606.5,190.0 L607.0,189.7 L607.5,190.3 L608.0,183.2 L608.5,188.7 L609.0,188.7 L609.5,188.7 L610.0,183.7 L610.5,183.3 L611.0,183.3 L611.5,190.4 L612.0,190.4 L612.5,190.4 L613.0,190.4 L613.5,190.9 L614.0,190.8 L614.5,191.0 L615.0,183.0 L615.5,183.0 L616.0,190.2 L616.5,190.2 L617.0,188.6 L617.5,188.6 L618.0,188.6 L618.5,190.7 L619.0,190.9 L619.5,184.4 L620.0,190.8 L620.5,190.8 L621.0,190.8 L621.5,185.8 L622.0,184.5 L622.5,189.7 L623.0,189.7 L623.5,183.6 L624.0,183.6 L624.5,186.2 L625.0,186.2 L625.5,186.0 L626.0,186.0 L626.5,190.5 L627.0,190.5 L627.5,190.5 L628.0,190.2 L628.5,190.2 L629.0,190.3 L629.5,190.3 L630.0,190.3 L630.5,186.1 L631.0,187.9 L631.5,190.2 L632.0,190.2 L632.5,190.2 L633.0,185.0 L633.5,189.8 L634.0,183.3 L634.5,184.3 L635.0,184.3 L635.5,184.3 L636.0,183.6 L636.5,183.6 L637.0,183.1 L637.5,183.3 L638.0,183.3 L638.5,188.6 L639.0,190.7 L639.5,189.0 L640.0,185.4 L640.5,185.4 L641.0,183.8 L641.5,183.8 L642.0,183.8 L642.5,185.7 L643.0,185.7 L643.5,185.7 L644.0,190.3 L644.5,190.3 L645.0,190.3 L645.5,183.8 L646.0,183.8 L646.5,183.8 L647.0,183.2 L647.5,184.0 L648.0,184.0 L648.5,184.0 L649.0,183.2 L649.5,183.2 L650.0,183.2 L650.5,189.8 L651.0,189.8 L651.5,188.3 L652.0,188.3 L652.5,188.3 L653.0,188.6 L653.5,189.5 L654.0,184.2 L654.5,184.2 L655.0,189.5 L655.5,190.5 L656.0,190.5 L656.5,184.3 L657.0,184.3 L657.5,190.2 L658.0,190.2 L658.5,190.9 L659.0,184.6 L659.5,189.2 L660.0,184.4 L660.5,185.2 L661.0,183.7 L661.5,183.7 L662.0,183.0" stroke="#4472C4" stroke-width="2.2"/><path d="M134.0,483.5V487.6M140.0,483.5V488.8M143.0,483.5V487.0M149.0,483.5V488.9M156.0,477.5V474.4M162.0,477.5V470.8M164.0,477.5V473.9M166.0,483.5V487.7M167.0,477.5V472.5M171.0,477.5V470.8M179.0,483.5V490.4M180.0,477.5V470.5M181.0,477.5V470.8M186.0,477.5V471.5M190.0,483.5V488.2M191.0,483.5V488.6M200.0,483.5V486.7M202.0,477.5V472.9M203.0,477.5V473.5M208.0,483.5V488.1M214.0,483.5V488.2M215.0,477.5V474.2M216.0,483.5V487.6M220.0,483.5V490.2M222.0,483.5V488.9M223.0,477.5V474.2M225.0,483.5V487.2M229.0,477.5V471.3M233.0,477.8V471.5M235.0,478.0V473.2M236.0,478.1V472.9M241.0,478.6V472.4M243.0,478.8V472.3M256.0,479.0V473.1M262.0,479.0V475.9M264.0,479.0V474.8M275.0,479.0V475.0M281.0,485.0V489.4M288.0,479.0V473.8M300.0,479.0V475.6M302.0,479.0V475.5M306.0,485.0V488.6M309.0,479.0V473.3M310.0,479.0V475.3M312.0,485.0V491.1M313.0,485.0V489.1M318.0,485.0V491.1M319.0,479.0V474.7M320.0,479.0V473.1M453.0,192.1V197.9M458.0,192.3V197.6M460.0,186.4V181.6M464.0,186.7V182.8M477.0,187.0V181.4M479.0,187.1V181.7M481.0,193.1V199.9M489.0,187.1V180.5M490.0,187.1V182.5M495.0,187.1V182.0M511.0,187.2V181.5M512.0,193.2V196.3M514.0,187.2V180.3M518.0,187.3V181.4M521.0,193.3V197.8M524.0,193.3V198.5M526.0,187.3V183.6M537.0,187.4V183.3M538.0,193.4V200.3M544.0,187.4V181.0M546.0,193.4V196.7M547.0,193.4V198.9M550.0,187.4V181.2M553.0,187.5V182.0M554.0,187.5V181.2M556.0,193.5V197.7M558.0,193.5V198.0M559.0,187.5V181.6M564.0,194.0V197.8M568.0,184.0V180.8M585.0,184.0V179.8M586.0,190.0V194.8M595.0,190.0V195.0M597.0,184.0V177.9M598.0,184.0V177.1M606.0,190.0V194.1M613.0,190.0V195.2M616.0,184.0V178.3M624.0,190.0V193.7M629.0,190.0V195.9M630.0,184.0V178.7M633.0,190.0V196.9M637.0,190.0V194.7M642.0,184.0V179.6M645.0,184.0V179.8M648.0,190.0V195.3M649.0,184.0V180.2M652.0,190.0V193.0M659.0,184.0V178.0M661.0,184.0V180.1" stroke="#4472C4" stroke-width="2.2" stroke-linecap="butt"/>
<path d="M132.0,500.0 L133.0,500.1 L134.0,500.1 L135.0,500.2 L136.0,500.2 L137.0,500.3 L138.0,500.3 L139.0,500.4 L140.0,500.5 L141.0,500.5 L142.0,500.6 L143.0,500.6 L144.0,500.7 L145.0,500.8 L146.0,500.8 L147.0,500.9 L148.0,500.9 L149.0,501.0 L150.0,501.0 L151.0,501.1 L152.0,501.2 L153.0,501.2 L154.0,501.3 L155.0,501.3 L156.0,501.4 L157.0,501.4 L158.0,501.5 L159.0,501.5 L160.0,501.4 L161.0,501.4 L162.0,501.4 L163.0,501.3 L164.0,501.3 L165.0,501.3 L166.0,501.2 L167.0,501.2 L168.0,501.2 L169.0,501.1 L170.0,501.1 L171.0,501.1 L172.0,501.0 L173.0,501.0 L174.0,501.0 L175.0,501.0 L176.0,500.9 L177.0,500.9 L178.0,500.9 L179.0,500.8 L180.0,500.8 L181.0,500.8 L182.0,500.7 L183.0,500.7 L184.0,500.7 L185.0,500.6 L186.0,500.6 L187.0,500.6 L188.0,500.5 L189.0,500.5 L190.0,499.7 L191.0,498.8 L192.0,498.0 L193.0,497.1 L194.0,496.3 L195.0,495.5 L196.0,494.6 L197.0,493.8 L198.0,492.9 L199.0,492.1 L199.7,491.5 L200.0,491.4 L201.0,491.0 L202.0,490.6 L203.0,490.2 L204.0,489.8 L205.0,489.4 L206.0,489.0 L207.0,488.7 L207.4,488.5 L208.0,488.3 L209.0,487.9 L210.0,487.5 L211.0,487.1 L212.0,486.7 L213.0,486.3 L214.0,485.9 L215.0,485.5 L216.0,485.3 L217.0,485.1 L218.0,484.9 L219.0,484.7 L220.0,484.5 L221.0,484.3 L222.0,484.0 L223.0,483.8 L224.0,483.5 L225.0,483.3 L226.0,483.0 L227.0,482.8 L228.0,482.6 L229.0,482.3 L230.0,482.1 L231.0,481.8 L232.0,481.6 L233.0,481.4 L234.0,481.1 L235.0,480.9 L236.0,480.6 L237.0,480.4 L238.0,480.1 L238.6,480.0 L239.0,479.9 L240.0,479.6 L241.0,479.4 L242.0,479.1 L243.0,478.9 L244.0,478.6 L245.0,478.4 L246.0,478.1 L247.0,477.9 L248.0,477.6 L249.0,477.4 L250.0,477.1 L251.0,476.9 L252.0,476.6 L253.0,476.4 L254.0,476.1 L255.0,475.9 L256.0,475.6 L257.0,475.4 L258.0,475.1 L259.0,474.9 L260.0,474.6 L261.0,474.4 L262.0,474.1 L263.0,473.9 L264.0,473.6 L265.0,473.4 L266.0,473.1 L266.4,473.0 L267.0,472.8 L268.0,472.6 L269.0,472.3 L270.0,472.1 L271.0,471.8 L272.0,471.6 L273.0,471.3 L274.0,471.1 L275.0,470.8 L276.0,470.6 L277.0,470.3 L278.0,470.1 L279.0,469.8 L280.0,469.5 L281.0,469.3 L282.0,469.0 L283.0,468.8 L284.0,468.5 L285.0,468.3 L286.0,468.0 L287.0,467.8 L288.0,467.5 L289.0,467.3 L290.0,467.0 L291.0,466.8 L291.2,466.7 L292.0,466.6 L293.0,466.4 L294.0,466.2 L295.0,466.0 L296.0,465.8 L297.0,465.7 L298.0,465.5 L299.0,465.3 L300.0,465.1 L301.0,464.9 L302.0,464.8 L303.0,464.6 L304.0,464.4 L305.0,464.2 L306.0,464.0 L307.0,463.9 L308.0,463.7 L309.0,463.5 L310.0,463.3 L311.0,463.1 L312.0,463.0 L312.9,462.8 L313.0,462.8 L314.0,462.6 L315.0,462.5 L316.0,462.4 L317.0,462.2 L318.0,462.1 L319.0,461.9 L320.0,461.8 L321.0,461.7 L322.0,461.5 L323.0,461.4 L324.0,461.2 L325.0,461.1 L326.0,461.0 L327.0,460.8 L328.0,460.7 L329.0,460.5 L330.0,460.4 L331.0,460.3 L332.0,460.1 L333.0,460.0 L334.0,459.8 L335.0,459.7 L336.0,459.6 L337.0,459.4 L338.0,459.3 L339.0,459.1 L340.0,459.0 L341.0,458.9 L342.0,458.8 L343.0,458.8 L344.0,458.7 L345.0,458.6 L346.0,458.5 L347.0,458.5 L348.0,458.4 L349.0,458.3 L350.0,458.2 L351.0,458.2 L352.0,458.1 L353.0,458.0 L354.0,457.9 L355.0,457.9 L356.0,457.8 L357.0,457.7 L358.0,457.6 L359.0,457.6 L360.0,457.5 L361.0,457.4 L362.0,457.5 L363.0,457.6 L364.0,457.7 L365.0,457.8 L366.0,458.0 L367.0,458.1 L368.0,458.2 L369.0,458.3 L370.0,458.4 L371.0,458.5 L372.0,458.6 L373.0,458.7 L374.0,458.8 L375.0,459.0 L375.4,459.0 L376.0,459.0 L377.0,459.1 L378.0,459.2 L379.0,459.2 L380.0,459.3 L381.0,459.4 L381.7,459.4 L382.0,460.1 L383.0,462.4" stroke="#ED7D31" stroke-width="5.5" stroke-linecap="round"/><path d="M396.0,457.0 L396.2,456.7 L397.0,457.8 L398.0,459.3 L399.0,460.7 L400.0,462.1 L401.0,463.5 L401.6,464.4 L402.0,463.8 L403.0,462.4 L404.0,460.9 L405.0,459.5 L406.0,458.0 L407.0,457.4 L408.0,456.8 L409.0,456.2 L409.7,455.8 L410.0,456.3 L411.0,457.9 L412.0,459.5 L413.0,461.1 L413.4,461.7 L414.0,461.3 L415.0,460.7 L416.0,460.1 L417.0,459.4 L418.0,458.8 L419.0,458.2 L420.0,457.6 L420.6,457.2 L421.0,457.4 L422.0,458.0 L423.0,458.5 L424.0,459.1 L425.0,459.6 L426.0,460.2 L427.0,460.8 L428.0,461.3 L428.7,461.7 L429.0,461.7 L430.0,461.6 L431.0,461.5 L432.0,461.4 L433.0,461.4 L434.0,461.3 L435.0,461.2 L436.0,461.1 L437.0,461.0 L438.0,461.0 L439.0,460.9 L440.0,460.8 L441.0,460.8 L442.0,460.8 L443.0,460.7 L444.0,460.7 L445.0,460.7 L446.0,460.7 L447.0,460.6 L448.0,460.6 L449.0,460.6 L450.0,460.6 L451.0,460.5 L452.0,460.5 L453.0,460.5 L454.0,460.5 L455.0,460.5 L456.0,460.4 L457.0,460.4 L458.0,460.4 L459.0,460.4 L460.0,460.3 L461.0,460.3 L462.0,460.3 L463.0,460.3 L464.0,460.2 L465.0,460.2 L466.0,460.2 L467.0,460.2 L468.0,460.2 L469.0,460.1 L470.0,460.1 L471.0,460.1 L472.0,460.1 L473.0,460.0 L474.0,460.0 L475.0,460.0 L476.0,460.0 L477.0,459.9 L478.0,459.9 L479.0,459.9 L480.0,459.9 L481.0,459.9 L482.0,459.8 L483.0,459.8 L484.0,459.8 L485.0,459.8 L486.0,459.7 L487.0,459.7 L488.0,459.7 L489.0,459.7 L490.0,459.6 L491.0,459.6 L492.0,459.6 L493.0,459.5 L494.0,459.4 L495.0,459.4 L496.0,459.3 L497.0,459.2 L498.0,459.1 L499.0,459.0 L500.0,459.0 L501.0,458.9 L502.0,458.8 L503.0,458.7 L504.0,458.7 L505.0,458.6 L506.0,458.5 L507.0,458.4 L508.0,458.3 L509.0,458.3 L510.0,458.2 L511.0,458.1 L512.0,458.0 L513.0,457.9 L514.0,457.9 L515.0,457.8 L516.0,457.7 L517.0,457.6 L518.0,457.5 L519.0,457.5 L520.0,457.4 L521.0,457.3 L522.0,457.2 L523.0,457.1 L524.0,457.1 L525.0,457.0 L526.0,456.9 L527.0,456.8 L528.0,456.8 L529.0,456.7 L530.0,456.6 L531.0,456.5 L532.0,456.4 L533.0,456.4 L534.0,456.3 L535.0,456.2 L536.0,456.1 L537.0,456.0 L538.0,456.0 L539.0,455.9 L540.0,455.8 L541.0,455.7 L542.0,455.6 L543.0,455.5 L544.0,455.4 L545.0,455.3 L546.0,455.2 L547.0,455.1 L548.0,455.0 L549.0,454.9 L550.0,454.8 L551.0,454.7 L552.0,454.6 L553.0,454.5 L554.0,454.4 L555.0,454.3 L556.0,454.2 L557.0,454.1 L558.0,454.0 L559.0,453.9 L560.0,453.8 L561.0,453.7 L562.0,453.6 L563.0,453.5 L564.0,453.4 L565.0,453.3 L566.0,453.2 L567.0,453.1 L568.0,453.0 L569.0,452.9 L570.0,452.8 L571.0,452.7 L572.0,452.6 L573.0,452.5 L574.0,452.4 L575.0,452.3 L576.0,452.2 L577.0,452.1 L578.0,452.0 L579.0,451.9 L580.0,451.8 L581.0,451.7 L582.0,451.6 L583.0,451.5 L584.0,451.4 L585.0,451.3 L586.0,451.2 L587.0,451.1 L588.0,451.0 L589.0,450.9 L590.0,450.8 L591.0,450.7 L592.0,450.6 L593.0,450.5 L594.0,450.4 L595.0,450.3 L596.0,450.2 L597.0,450.1 L598.0,450.0 L599.0,449.9 L600.0,449.8 L601.0,449.7 L602.0,449.6 L603.0,449.5 L604.0,449.4 L605.0,449.2 L606.0,449.1 L607.0,449.0 L608.0,448.9 L609.0,448.8 L610.0,448.7 L611.0,448.6 L612.0,448.5 L613.0,448.4 L614.0,448.3 L615.0,448.2 L616.0,448.1 L617.0,448.0 L618.0,447.9 L619.0,447.8 L620.0,447.7 L621.0,447.6 L622.0,447.5 L623.0,447.5 L624.0,447.4 L625.0,447.3 L626.0,447.2 L627.0,447.2 L628.0,447.1 L629.0,447.0 L630.0,446.9 L631.0,446.9 L632.0,446.8 L633.0,446.7 L634.0,446.6 L635.0,446.6 L636.0,446.5 L637.0,446.4 L638.0,446.3 L639.0,446.3 L640.0,446.2 L641.0,446.1 L642.0,446.0 L643.0,445.9 L644.0,445.9 L645.0,445.8 L646.0,445.7 L647.0,445.6 L648.0,445.6 L649.0,445.5 L650.0,445.4 L651.0,445.3 L652.0,445.3 L653.0,445.2 L654.0,445.1 L655.0,445.0 L656.0,445.0 L657.0,444.9 L658.0,444.8 L659.0,444.7 L660.0,444.7 L661.0,444.6 L662.0,444.5" stroke="#ED7D31" stroke-width="5.5" stroke-linecap="round"/><path d="M132.0,501.7 L132.5,501.7 L133.0,501.7 L133.5,498.6 L134.0,502.3 L134.5,502.3 L135.0,502.3 L135.5,501.3 L136.0,501.3 L136.5,501.4 L137.0,501.5 L137.5,498.6 L138.0,499.6 L138.5,499.6 L139.0,503.0 L139.5,502.5 L140.0,498.7 L140.5,502.2 L141.0,498.4 L141.5,500.9 L142.0,501.0 L142.5,501.0 L143.0,502.5 L143.5,501.3 L144.0,499.3 L144.5,499.3 L145.0,503.1 L145.5,500.0 L146.0,501.2 L146.5,501.2 L147.0,498.8 L147.5,498.9 L148.0,498.9 L148.5,500.1 L149.0,500.1 L149.5,500.1 L150.0,502.9 L150.5,502.9 L151.0,502.9 L151.5,502.0 L152.0,503.7 L152.5,503.7 L153.0,503.3 L153.5,503.3 L154.0,503.4 L154.5,503.2 L155.0,503.2 L155.5,499.4 L156.0,499.4 L156.5,499.4 L157.0,503.9 L157.5,499.7 L158.0,499.8 L158.5,502.5 L159.0,502.5 L159.5,502.5 L160.0,500.5 L160.5,502.2 L161.0,502.1 L161.5,502.1 L162.0,503.9 L162.5,503.8 L163.0,503.8 L163.5,500.5 L164.0,502.7 L164.5,502.9 L165.0,502.8 L165.5,502.8 L166.0,500.9 L166.5,499.1 L167.0,499.2 L167.5,499.8 L168.0,499.8 L168.5,499.8 L169.0,502.5 L169.5,503.5 L170.0,499.2 L170.5,499.2 L171.0,499.2 L171.5,503.1 L172.0,499.3 L172.5,503.2 L173.0,503.2 L173.5,499.0 L174.0,502.7 L174.5,502.7 L175.0,502.9 L175.5,498.6 L176.0,498.6 L176.5,498.6 L177.0,502.1 L177.5,502.7 L178.0,502.7 L178.5,502.4 L179.0,502.4 L179.5,502.4 L180.0,502.8 L180.5,503.3 L181.0,503.3 L181.5,499.8 L182.0,500.0 L182.5,502.0 L183.0,502.5 L183.5,502.8 L184.0,498.9 L184.5,498.9 L185.0,498.8 L185.5,498.2 L186.0,498.1 L186.5,498.1 L187.0,502.7 L187.5,502.7 L188.0,502.7 L188.5,502.6 L189.0,502.6 L189.5,502.2 L190.0,500.8 L190.5,501.8 L191.0,501.4 L191.5,501.0 L192.0,495.6 L192.5,495.4 L193.0,499.6 L193.5,499.2 L194.0,498.1 L194.5,497.7 L195.0,498.0 L195.5,494.0 L196.0,492.8 L196.5,493.2 L197.0,496.3 L197.5,495.9 L198.0,493.7 L198.5,495.0 L199.0,494.6 L199.5,494.2 L199.7,489.9 L200.0,493.8 L200.5,493.6 L201.0,493.4 L201.5,490.0 L202.0,491.9 L202.5,488.6 L203.0,488.4 L203.5,488.3 L204.0,488.5 L204.5,488.3 L205.0,486.9 L205.5,486.7 L206.0,486.6 L206.5,486.8 L207.0,486.6 L207.4,486.4 L207.5,486.1 L208.0,489.6 L208.5,489.4 L209.0,489.2 L209.5,486.5 L210.0,486.3 L210.5,489.8 L211.0,489.6 L211.5,487.4 L212.0,487.3 L212.5,486.0 L213.0,485.8 L213.5,488.2 L214.0,488.0 L214.5,487.8 L215.0,487.2 L215.5,487.1 L216.0,487.0 L216.5,487.7 L217.0,483.8 L217.5,484.0 L218.0,483.9 L218.5,483.8 L219.0,485.8 L219.5,485.7 L220.0,486.3 L220.5,482.0 L221.0,482.5 L221.5,484.6 L222.0,484.5 L222.5,484.4 L223.0,485.6 L223.5,484.9 L224.0,481.5 L224.5,484.8 L225.0,484.7 L225.5,484.6 L226.0,484.7 L226.5,483.4 L227.0,483.3 L227.5,483.2 L228.0,481.3 L228.5,481.6 L229.0,484.7 L229.5,484.6 L230.0,484.5 L230.5,484.5 L231.0,483.8 L231.5,483.8 L232.0,483.7 L232.5,483.5 L233.0,479.5 L233.5,479.4 L234.0,479.3 L234.5,479.2 L235.0,479.0 L235.5,478.9 L236.0,478.8 L236.5,478.7 L237.0,478.6 L237.5,479.4 L238.0,479.3 L238.5,479.1 L238.6,480.6 L239.0,480.5 L239.5,480.3 L240.0,481.8 L240.5,482.0 L241.0,481.4 L241.5,481.2 L242.0,481.1 L242.5,477.6 L243.0,480.3 L243.5,481.3 L244.0,480.4 L244.5,479.9 L245.0,480.9 L245.5,476.8 L246.0,477.7 L246.5,479.3 L247.0,479.2 L247.5,479.0 L248.0,475.4 L248.5,475.3 L249.0,474.8 L249.5,475.5 L250.0,475.4 L250.5,475.3 L251.0,477.9 L251.5,477.8 L252.0,477.6 L252.5,474.1 L253.0,474.0 L253.5,476.6 L254.0,476.5 L254.5,476.6 L255.0,473.5 L255.5,478.1 L256.0,477.1 L256.5,476.4 L257.0,476.3 L257.5,473.3 L258.0,477.0 L258.5,477.3 L259.0,472.4 L259.5,476.0 L260.0,472.2 L260.5,472.1 L261.0,471.9 L261.5,476.3 L262.0,476.2 L262.5,471.5 L263.0,471.4 L263.5,475.9 L264.0,475.8 L264.5,475.6 L265.0,475.7 L265.5,471.2 L266.0,471.1 L266.4,471.7 L266.5,471.8 L267.0,471.7 L267.5,471.3 L268.0,475.1 L268.5,475.0 L269.0,474.8 L269.5,470.5 L270.0,473.7 L270.5,470.8 L271.0,469.4 L271.5,469.2 L272.0,469.1 L272.5,470.5 L273.0,470.4 L273.5,470.3 L274.0,468.6 L274.5,468.5 L275.0,468.4 L275.5,471.6 L276.0,471.4 L276.5,471.3 L277.0,471.5 L277.5,471.3 L278.0,471.2 L278.5,472.2 L279.0,472.1 L279.5,467.2 L280.0,471.2 L280.5,471.1 L281.0,468.1 L281.5,468.0 L282.0,470.4 L282.5,470.3 L283.0,470.2 L283.5,470.3 L284.0,466.8 L284.5,466.7 L285.0,466.5 L285.5,469.5 L286.0,469.3 L286.5,468.7 L287.0,468.9 L287.5,470.1 L288.0,470.0 L288.5,469.5 L289.0,469.4 L289.5,469.2 L290.0,468.9 L290.5,468.7 L291.0,468.5 L291.2,468.4 L291.5,468.4 L292.0,469.0 L292.5,468.9 L293.0,468.9 L293.5,465.2 L294.0,465.1 L294.5,464.4 L295.0,468.4 L295.5,468.3 L296.0,468.2 L296.5,468.2 L297.0,467.9 L297.5,467.8 L298.0,467.7 L298.5,467.6 L299.0,463.2 L299.5,466.8 L300.0,466.7 L300.5,466.6 L301.0,466.9 L301.5,466.8 L302.0,466.7 L302.5,466.2 L303.0,463.9 L303.5,466.8 L304.0,466.7 L304.5,466.6 L305.0,466.2 L305.5,461.6 L306.0,461.5 L306.5,461.4 L307.0,465.2 L307.5,465.1 L308.0,465.9 L308.5,465.5 L309.0,461.2 L309.5,464.8 L310.0,462.1 L310.5,462.0 L311.0,465.6 L311.5,465.5 L312.0,465.4 L312.5,462.3 L312.9,460.7 L313.0,463.8 L313.5,463.7 L314.0,463.3 L314.5,463.2 L315.0,463.7 L315.5,460.6 L316.0,464.4 L316.5,464.4 L317.0,464.0 L317.5,463.3 L318.0,459.7 L318.5,459.7 L319.0,459.6 L319.5,464.1 L320.0,464.1 L320.5,460.3 L321.0,460.2 L321.5,463.5 L322.0,463.1 L322.5,463.1 L323.0,461.1 L323.5,461.1 L324.0,461.0 L324.5,462.6 L325.0,459.7 L325.5,459.6 L326.0,462.9 L326.5,462.9 L327.0,462.8 L327.5,458.2 L328.0,458.7 L328.5,458.6 L329.0,458.5 L329.5,462.3 L330.0,462.2 L330.5,462.2 L331.0,458.4 L331.5,462.5 L332.0,461.9 L332.5,461.5 L333.0,462.3 L333.5,461.8 L334.0,457.3 L334.5,457.2 L335.0,457.1 L335.5,460.0 L336.0,460.0 L336.5,462.0 L337.0,458.3 L337.5,458.3 L338.0,457.7 L338.5,457.8 L339.0,457.7 L339.5,457.6 L340.0,461.1 L340.5,461.0 L341.0,461.0 L341.5,461.2 L342.0,461.1 L342.5,460.9 L343.0,457.3 L343.5,457.2 L344.0,456.4 L344.5,456.3 L345.0,459.0 L345.5,459.0 L346.0,458.8 L346.5,458.8 L347.0,457.3 L347.5,459.9 L348.0,459.7 L348.5,459.7 L349.0,459.6 L349.5,459.7 L350.0,459.9 L350.5,459.9 L351.0,456.4 L351.5,456.3 L352.0,456.8 L352.5,456.8 L353.0,456.7 L353.5,457.5 L354.0,456.0 L354.5,456.0 L355.0,456.0 L355.5,460.2 L356.0,460.2 L356.5,456.6 L357.0,459.6 L357.5,459.5 L358.0,459.5 L358.5,457.0 L359.0,457.0 L359.5,456.8 L360.0,456.7 L360.5,455.6 L361.0,455.5 L361.5,458.4 L362.0,459.3 L362.5,459.3 L363.0,459.4 L363.5,460.0 L364.0,458.1 L364.5,458.2 L365.0,458.2 L365.5,459.1 L366.0,460.2 L366.5,456.5 L367.0,456.9 L367.5,457.0 L368.0,460.3 L368.5,460.4 L369.0,460.4 L369.5,456.1 L370.0,460.9 L370.5,461.0 L371.0,461.0 L371.5,460.4 L372.0,460.4 L372.5,461.0 L373.0,456.9 L373.5,456.4 L374.0,456.4 L374.5,456.5 L375.0,456.4 L375.4,457.1 L375.5,458.7 L376.0,458.7 L376.5,458.7 L377.0,461.6 L377.5,461.7 L378.0,461.7 L378.5,461.7 L379.0,461.7 L379.5,461.1 L380.0,461.2 L380.5,457.6 L381.0,458.1 L381.5,460.3 L381.7,460.3 L382.0,461.0 L382.5,461.8 L383.0,462.7 L383.5,463.1 L384.0,465.7 L384.5,467.5 L385.0,469.2 L385.5,470.7 L386.0,472.4 L386.5,474.1 L387.0,475.2 L387.5,476.9 L388.0,478.6 L388.5,481.1 L389.0,482.1 L389.5,479.7 L390.0,477.1 L390.5,475.0 L391.0,473.1 L391.5,470.3 L392.0,467.9 L392.5,465.4 L393.0,463.0 L393.5,461.4 L394.0,460.4 L394.5,458.8 L395.0,458.1 L395.5,457.3 L396.0,457.7 L396.2,457.4 L396.5,455.5 L397.0,456.6 L397.5,460.0 L398.0,457.8 L398.5,461.3 L399.0,462.1 L399.5,462.8 L400.0,461.5 L400.5,462.2 L401.0,462.9 L401.5,464.7 L401.6,465.7 L402.0,464.7 L402.5,464.0 L403.0,461.2 L403.5,460.4 L404.0,459.8 L404.5,459.1 L405.0,458.3 L405.5,457.3 L406.0,456.6 L406.5,456.8 L407.0,455.7 L407.5,455.4 L408.0,458.3 L408.5,454.9 L409.0,457.1 L409.5,456.8 L409.7,456.7 L410.0,457.4 L410.5,455.5 L411.0,456.3 L411.5,457.6 L412.0,458.4 L412.5,459.2 L413.0,459.3 L413.4,459.9 L413.5,459.9 L414.0,460.9 L414.5,460.5 L415.0,460.2 L415.5,462.0 L416.0,458.6 L416.5,460.9 L417.0,458.3 L417.5,459.7 L418.0,460.6 L418.5,460.2 L419.0,457.3 L419.5,459.5 L420.0,459.2 L420.5,458.9 L420.6,456.2 L421.0,455.7 L421.5,458.6 L422.0,458.9 L422.5,459.8 L423.0,459.5 L423.5,459.7 L424.0,460.0 L424.5,457.7 L425.0,458.4 L425.5,460.7 L426.0,460.9 L426.5,462.1 L427.0,462.4 L427.5,462.7 L428.0,459.7 L428.5,463.2 L428.7,463.3 L429.0,459.9 L429.5,459.9 L430.0,460.5 L430.5,460.4 L431.0,460.9 L431.5,460.8 L432.0,462.7 L432.5,460.6 L433.0,460.6 L433.5,461.4 L434.0,461.4 L434.5,461.3 L435.0,460.7 L435.5,460.7 L436.0,460.3 L436.5,460.3 L437.0,462.1 L437.5,462.6 L438.0,462.6 L438.5,459.4 L439.0,460.6 L439.5,460.6 L440.0,458.4 L440.5,458.4 L441.0,458.4 L441.5,459.5 L442.0,459.5 L442.5,461.3 L443.0,461.3 L443.5,463.3 L444.0,462.8 L444.5,462.8 L445.0,462.9 L445.5,462.1 L446.0,462.0 L446.5,459.4 L447.0,458.6 L447.5,458.6 L448.0,458.5 L448.5,458.5 L449.0,461.9 L449.5,461.7 L450.0,460.1 L450.5,460.1 L451.0,461.5 L451.5,461.5 L452.0,461.5 L452.5,461.6 L453.0,461.6 L453.5,460.1 L454.0,460.1 L454.5,460.0 L455.0,459.5 L455.5,459.5 L456.0,458.6 L456.5,462.5 L457.0,462.5 L457.5,461.5 L458.0,461.5 L458.5,461.5 L459.0,458.6 L459.5,458.9 L460.0,462.3 L460.5,462.3 L461.0,462.2 L461.5,462.6 L462.0,462.3 L462.5,462.3 L463.0,462.3 L463.5,458.0 L464.0,462.3 L464.5,461.7 L465.0,461.7 L465.5,461.7 L466.0,458.3 L466.5,458.0 L467.0,458.0 L467.5,458.0 L468.0,461.6 L468.5,462.3 L469.0,462.3 L469.5,461.6 L470.0,461.9 L470.5,461.5 L471.0,462.5 L471.5,462.5 L472.0,462.2 L472.5,462.2 L473.0,461.8 L473.5,457.7 L474.0,457.7 L474.5,457.8 L475.0,457.8 L475.5,457.8 L476.0,459.4 L476.5,459.4 L477.0,458.3 L477.5,457.4 L478.0,457.4 L478.5,457.4 L479.0,457.4 L479.5,457.4 L480.0,459.6 L480.5,458.3 L481.0,457.5 L481.5,457.4 L482.0,457.4 L482.5,462.2 L483.0,457.7 L483.5,457.7 L484.0,462.3 L484.5,461.5 L485.0,460.7 L485.5,460.7 L486.0,457.5 L486.5,457.5 L487.0,457.5 L487.5,459.5 L488.0,459.4 L488.5,459.4 L489.0,461.3 L489.5,460.2 L490.0,460.4 L490.5,460.4 L491.0,460.3 L491.5,460.9 L492.0,460.9 L492.5,460.8 L493.0,457.8 L493.5,457.7 L494.0,457.7 L494.5,461.3 L495.0,461.3 L495.5,461.9 L496.0,460.0 L496.5,461.4 L497.0,461.4 L497.5,461.4 L498.0,456.6 L498.5,457.9 L499.0,460.4 L499.5,457.1 L500.0,457.1 L500.5,460.9 L501.0,460.9 L501.5,457.1 L502.0,457.0 L502.5,457.0 L503.0,460.4 L503.5,461.2 L504.0,461.2 L504.5,456.5 L505.0,461.0 L505.5,460.1 L506.0,458.7 L506.5,458.7 L507.0,460.0 L507.5,459.9 L508.0,459.8 L508.5,459.3 L509.0,456.5 L509.5,456.4 L510.0,455.7 L510.5,456.5 L511.0,456.5 L511.5,456.5 L512.0,460.6 L512.5,460.5 L513.0,457.2 L513.5,457.2 L514.0,458.6 L514.5,458.5 L515.0,458.5 L515.5,460.2 L516.0,459.4 L516.5,459.3 L517.0,458.0 L517.5,456.3 L518.0,456.3 L518.5,456.2 L519.0,455.5 L519.5,455.4 L520.0,455.5 L520.5,455.4 L521.0,458.1 L521.5,459.0 L522.0,454.7 L522.5,454.7 L523.0,459.7 L523.5,459.7 L524.0,459.6 L524.5,458.7 L525.0,454.6 L525.5,456.0 L526.0,455.9 L526.5,455.9 L527.0,457.9 L527.5,457.9 L528.0,457.9 L528.5,458.4 L529.0,454.3 L529.5,455.3 L530.0,454.0 L530.5,458.0 L531.0,457.8 L531.5,453.9 L532.0,454.4 L532.5,455.1 L533.0,458.3 L533.5,458.0 L534.0,458.0 L534.5,457.9 L535.0,453.9 L535.5,453.8 L536.0,453.8 L536.5,454.6 L537.0,454.6 L537.5,454.5 L538.0,454.1 L538.5,457.9 L539.0,457.8 L539.5,457.8 L540.0,455.1 L540.5,458.2 L541.0,457.5 L541.5,457.4 L542.0,457.4 L542.5,457.7 L543.0,457.7 L543.5,457.6 L544.0,456.5 L544.5,456.5 L545.0,456.4 L545.5,457.2 L546.0,456.8 L546.5,453.4 L547.0,453.4 L547.5,453.3 L548.0,456.7 L548.5,453.7 L549.0,453.7 L549.5,454.2 L550.0,455.9 L550.5,455.9 L551.0,455.8 L551.5,454.8 L552.0,452.7 L552.5,452.0 L553.0,452.2 L553.5,452.2 L554.0,455.9 L554.5,456.4 L555.0,455.5 L555.5,451.7 L556.0,452.1 L556.5,453.7 L557.0,453.7 L557.5,453.6 L558.0,456.2 L558.5,456.2 L559.0,451.4 L559.5,451.4 L560.0,451.3 L560.5,451.8 L561.0,455.2 L561.5,455.1 L562.0,454.0 L562.5,453.9 L563.0,453.8 L563.5,455.8 L564.0,455.8 L564.5,455.8 L565.0,455.7 L565.5,450.9 L566.0,453.5 L566.5,451.5 L567.0,450.9 L567.5,455.2 L568.0,452.3 L568.5,451.9 L569.0,451.8 L569.5,455.4 L570.0,454.5 L570.5,453.9 L571.0,453.9 L571.5,450.4 L572.0,450.3 L572.5,453.7 L573.0,453.7 L573.5,453.6 L574.0,451.0 L574.5,450.9 L575.0,454.3 L575.5,454.2 L576.0,454.2 L576.5,452.9 L577.0,450.6 L577.5,452.6 L578.0,450.8 L578.5,449.9 L579.0,449.9 L579.5,449.8 L580.0,453.1 L580.5,453.0 L581.0,449.6 L581.5,449.6 L582.0,454.1 L582.5,452.9 L583.0,452.8 L583.5,452.8 L584.0,449.0 L584.5,449.5 L585.0,449.5 L585.5,449.0 L586.0,450.3 L586.5,448.8 L587.0,452.1 L587.5,452.1 L588.0,452.6 L588.5,451.1 L589.0,451.0 L589.5,448.4 L590.0,452.1 L590.5,452.1 L591.0,451.7 L591.5,451.6 L592.0,452.7 L592.5,448.1 L593.0,448.0 L593.5,448.0 L594.0,448.0 L594.5,448.0 L595.0,447.9 L595.5,449.3 L596.0,449.3 L596.5,449.2 L597.0,449.9 L597.5,448.0 L598.0,447.9 L598.5,447.9 L599.0,447.8 L599.5,450.5 L600.0,448.0 L600.5,447.8 L601.0,447.7 L601.5,447.7 L602.0,452.1 L602.5,452.0 L603.0,451.4 L603.5,451.4 L604.0,451.3 L604.5,448.0 L605.0,447.9 L605.5,447.9 L606.0,447.4 L606.5,448.1 L607.0,448.1 L607.5,446.9 L608.0,447.1 L608.5,447.6 L609.0,449.6 L609.5,449.5 L610.0,450.8 L610.5,448.0 L611.0,446.5 L611.5,446.3 L612.0,450.4 L612.5,450.4 L613.0,451.0 L613.5,450.9 L614.0,450.8 L614.5,450.2 L615.0,445.7 L615.5,447.1 L616.0,447.1 L616.5,447.0 L617.0,450.5 L617.5,450.4 L618.0,450.4 L618.5,449.1 L619.0,450.1 L619.5,450.1 L620.0,450.0 L620.5,449.9 L621.0,449.8 L621.5,449.8 L622.0,449.7 L622.5,449.7 L623.0,449.7 L623.5,445.7 L624.0,445.7 L624.5,445.3 L625.0,448.7 L625.5,448.7 L626.0,448.7 L626.5,447.9 L627.0,448.9 L627.5,448.9 L628.0,448.9 L628.5,448.9 L629.0,449.1 L629.5,449.0 L630.0,449.0 L630.5,444.8 L631.0,448.2 L631.5,448.2 L632.0,448.3 L632.5,448.2 L633.0,448.2 L633.5,448.7 L634.0,445.7 L634.5,447.8 L635.0,447.8 L635.5,447.5 L636.0,447.4 L636.5,447.4 L637.0,444.3 L637.5,448.5 L638.0,443.9 L638.5,443.8 L639.0,447.9 L639.5,447.9 L640.0,447.9 L640.5,447.7 L641.0,447.7 L641.5,444.7 L642.0,444.2 L642.5,448.2 L643.0,444.2 L643.5,447.8 L644.0,447.7 L644.5,444.9 L645.0,447.6 L645.5,446.5 L646.0,446.4 L646.5,446.4 L647.0,447.0 L647.5,446.5 L648.0,443.6 L648.5,443.7 L649.0,443.7 L649.5,443.7 L650.0,444.6 L650.5,444.5 L651.0,443.5 L651.5,443.4 L652.0,442.7 L652.5,447.7 L653.0,443.1 L653.5,443.1 L654.0,443.0 L654.5,443.3 L655.0,442.8 L655.5,442.8 L656.0,446.3 L656.5,447.5 L657.0,443.3 L657.5,443.2 L658.0,443.2 L658.5,443.4 L659.0,443.4 L659.5,445.8 L660.0,445.7 L660.5,446.1 L661.0,446.1 L661.5,446.0 L662.0,443.4" stroke="#ED7D31" stroke-width="2.5"/><path d="M136.0,502.7V504.9M139.0,497.9V495.4M144.0,503.2V506.6M150.0,498.5V495.9M156.0,498.9V496.2M165.0,503.8V506.0M168.0,503.7V506.0M171.0,498.6V495.9M178.0,498.4V496.2M179.0,498.3V494.8M184.0,498.2V494.3M186.0,498.1V494.7M190.0,502.2V505.8M191.0,501.3V503.6M197.0,491.3V489.0M198.0,490.4V486.7M207.4,486.0V482.2M213.0,488.8V491.7M214.0,488.4V491.4M221.0,481.8V479.1M222.0,481.5V477.6M225.0,485.8V487.8M232.0,479.1V475.9M235.0,478.4V476.1M237.0,477.9V474.3M249.0,479.9V483.8M263.0,476.4V479.9M286.0,470.5V474.3M287.0,465.3V463.1M295.0,468.5V471.5M297.0,468.2V471.8M306.0,461.5V458.8M309.0,466.0V468.3M315.0,465.0V467.7M322.0,459.0V456.9M323.0,463.9V467.2M325.0,463.6V465.6M330.0,462.9V465.5M359.0,455.1V451.9M375.4,461.5V464.5M379.0,461.7V464.7M401.0,466.0V468.5M409.0,453.7V450.9M416.0,462.6V465.5M420.0,460.1V463.1M455.0,458.0V455.8M463.0,457.8V455.6M464.0,457.7V453.9M467.0,457.7V454.0M492.0,462.1V464.2M495.0,461.9V464.2M501.0,456.4V454.0M510.0,460.7V464.1M514.0,460.4V464.2M518.0,460.0V463.4M527.0,454.3V451.2M535.0,458.7V460.9M538.0,453.5V450.5M540.0,458.3V461.2M542.0,458.1V460.8M547.0,452.6V450.4M549.0,457.4V460.4M562.0,451.1V447.9M567.0,455.6V458.3M568.0,450.5V447.7M574.0,449.9V446.9M592.0,453.1V455.9M604.0,451.9V454.6M605.0,451.7V454.0M613.0,445.9V442.6M623.0,445.0V441.5M625.0,449.8V453.8M628.0,444.6V441.5M631.0,444.4V440.9M634.0,449.1V452.6M640.0,443.7V440.3M649.0,448.0V451.6M650.0,442.9V439.9M658.0,442.3V440.2" stroke="#ED7D31" stroke-width="2" stroke-linecap="butt"/>
</g>
<ellipse cx="274" cy="174.5" rx="7.4" ry="19.2" fill="none" stroke="#000" stroke-width="3"/>
<line x1="258.7" y1="174.8" x2="226.7" y2="174.8" stroke="#000" stroke-width="2.6"/><polygon points="218.7,174.8 226.7,170.8 226.7,178.8" fill="#000"/>
<ellipse cx="514.8" cy="196" rx="7.6" ry="19.2" fill="none" stroke="#000" stroke-width="3"/>
<line x1="525.6" y1="196.5" x2="558" y2="196.5" stroke="#000" stroke-width="2.6"/><polygon points="566,196.5 558,192.5 558,200.5" fill="#000"/>
<ellipse cx="590" cy="450.6" rx="7.6" ry="19.2" fill="none" stroke="#000" stroke-width="3"/>
<line x1="601" y1="450.6" x2="633.5" y2="450.6" stroke="#000" stroke-width="2.6"/><polygon points="641.5,450.6 633.5,446.6 633.5,454.6" fill="#000"/>
<g font-size="25" stroke="#000" stroke-width="0.3"><text x="106" y="28.8" text-anchor="end">1200</text><text x="106" y="67.5" text-anchor="end">1100</text><text x="106" y="106.1" text-anchor="end">1000</text><text x="106" y="144.8" text-anchor="end">900</text><text x="106" y="183.4" text-anchor="end">800</text><text x="106" y="222.1" text-anchor="end">700</text><text x="106" y="260.7" text-anchor="end">600</text><text x="106" y="299.4" text-anchor="end">500</text><text x="106" y="338.0" text-anchor="end">400</text><text x="106" y="376.6" text-anchor="end">300</text><text x="106" y="415.3" text-anchor="end">200</text><text x="106" y="453.9" text-anchor="end">100</text><text x="106" y="492.6" text-anchor="end">0</text><text x="106" y="531.2" text-anchor="end">-100</text><text x="106" y="569.9" text-anchor="end">-200</text><text x="689.5" y="28.8">120</text><text x="689.5" y="67.5">110</text><text x="689.5" y="106.1">100</text><text x="689.5" y="144.8">90</text><text x="689.5" y="183.4">80</text><text x="689.5" y="222.1">70</text><text x="689.5" y="260.7">60</text><text x="689.5" y="299.4">50</text><text x="689.5" y="338.0">40</text><text x="689.5" y="376.6">30</text><text x="689.5" y="415.3">20</text><text x="689.5" y="453.9">10</text><text x="689.5" y="492.6">0</text><text x="689.5" y="531.2">-10</text><text x="689.5" y="569.9">-20</text><text x="132.5" y="605.8" text-anchor="middle">1.3</text><text x="185.5" y="605.8" text-anchor="middle">1.4</text><text x="238.5" y="605.8" text-anchor="middle">1.5</text><text x="291.5" y="605.8" text-anchor="middle">1.6</text><text x="344.5" y="605.8" text-anchor="middle">1.7</text><text x="397.5" y="605.8" text-anchor="middle">1.8</text><text x="450.5" y="605.8" text-anchor="middle">1.9</text><text x="503.5" y="605.8" text-anchor="middle">2</text><text x="556.5" y="605.8" text-anchor="middle">2.1</text><text x="609.5" y="605.8" text-anchor="middle">2.2</text><text x="662.5" y="605.8" text-anchor="middle">2.3</text></g>
<text x="209" y="154.2" font-size="25" textLength="40.5" lengthAdjust="spacingAndGlyphs">Vds</text>
<text x="536" y="174.9" font-size="25" textLength="31.5" lengthAdjust="spacingAndGlyphs">Ids</text>
<text x="594.5" y="421.6" font-size="25" textLength="37" lengthAdjust="spacingAndGlyphs">Vgs</text>
<text x="343" y="635.2" font-size="24" font-weight="bold" textLength="107" lengthAdjust="spacingAndGlyphs">Time (us)</text>
<text transform="translate(42,332.8) rotate(-90)" font-size="24" font-weight="bold" textLength="82" lengthAdjust="spacingAndGlyphs">Vds (V)</text>
<text transform="translate(749.5,374.4) rotate(-90)" font-size="24" font-weight="bold" textLength="167.5" lengthAdjust="spacingAndGlyphs">Ids (A), Vgs (V)</text>
<text x="591" y="635.2" font-size="19" fill="#C4E4BC" style="fill:#C4E4BC" textLength="164" lengthAdjust="spacingAndGlyphs">www.cntronics.com</text>
</svg>
</body></html>
